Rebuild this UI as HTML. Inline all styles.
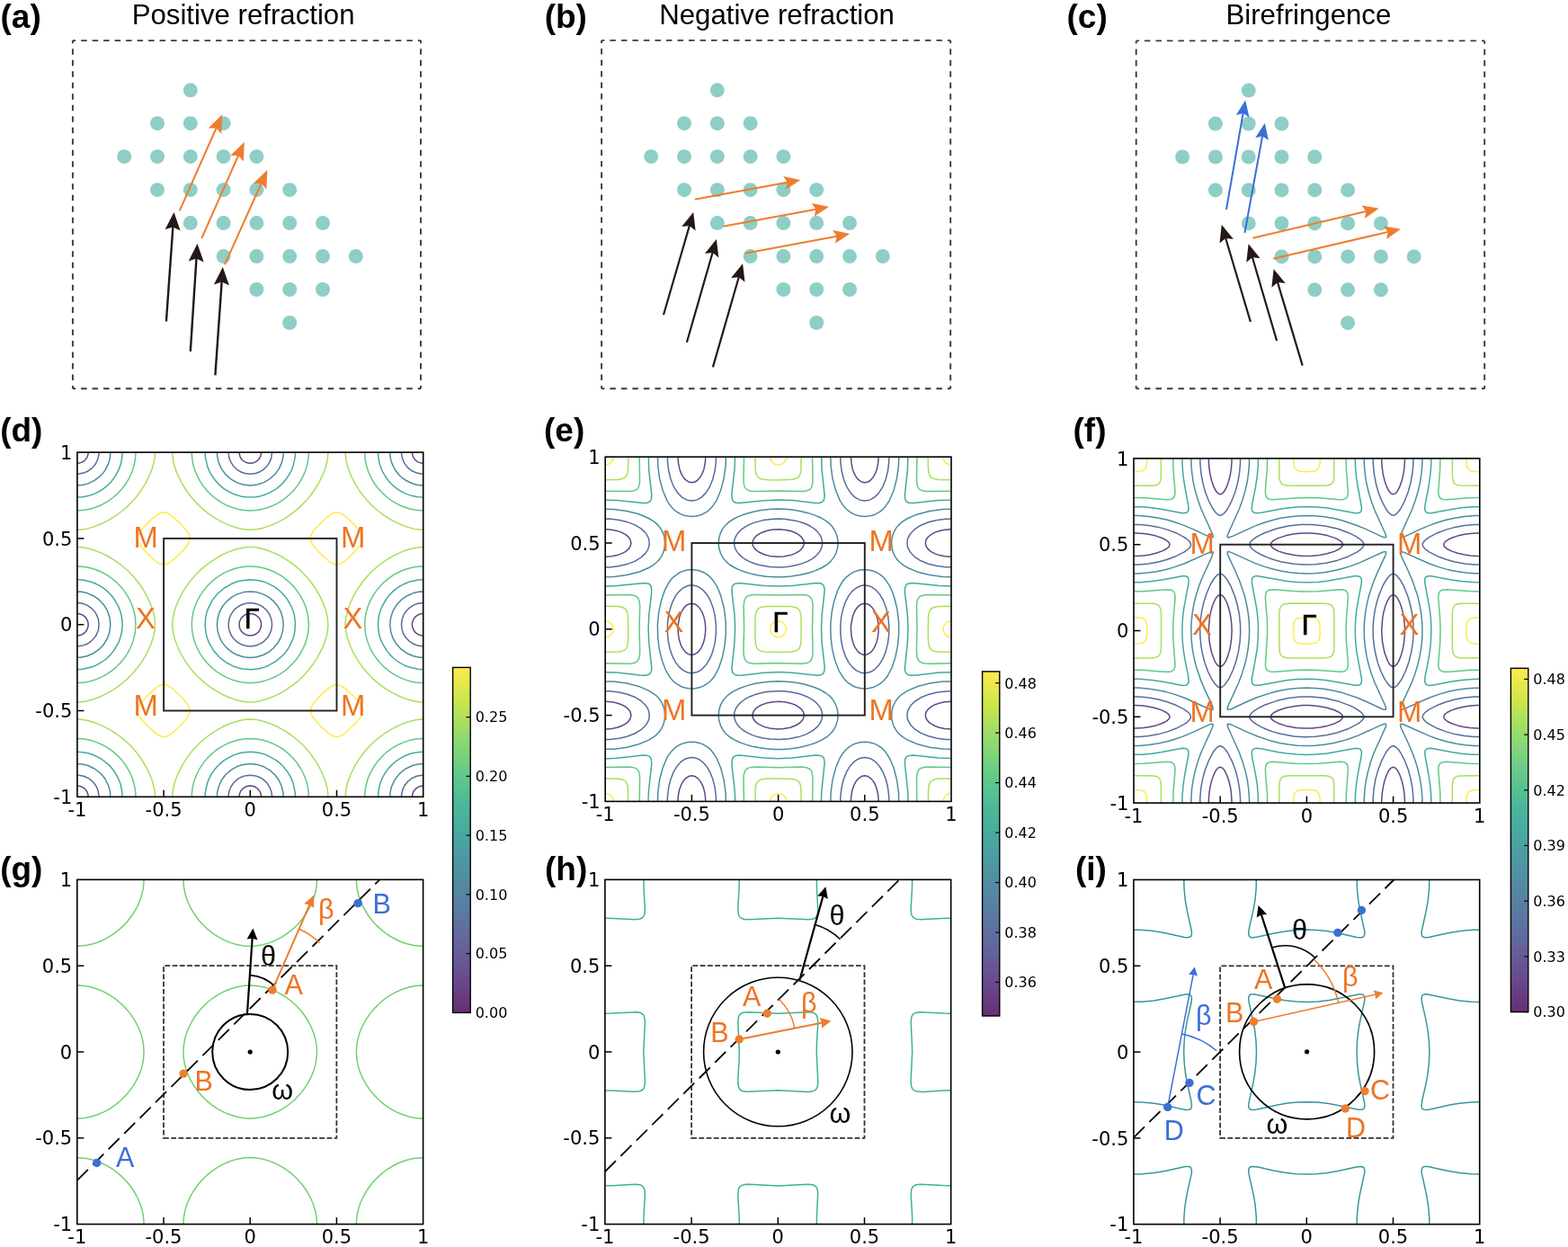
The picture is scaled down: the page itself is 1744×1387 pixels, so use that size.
<!DOCTYPE html><html><head><meta charset="utf-8"><style>html,body{margin:0;padding:0;background:#fff;}svg{display:block}</style></head><body><svg width="1744" height="1387" viewBox="0 0 1744 1387">
<rect width="1744" height="1387" fill="#fff"/>
<line x1="80.9" y1="45.1" x2="468" y2="45.1" stroke="#3e3a39" stroke-width="1.9" stroke-dasharray="6.5 5.99" stroke-dashoffset="3.25"/>
<line x1="468" y1="45.1" x2="468" y2="432.3" stroke="#3e3a39" stroke-width="1.9" stroke-dasharray="6.5 5.99" stroke-dashoffset="3.25"/>
<line x1="468" y1="432.3" x2="80.9" y2="432.3" stroke="#3e3a39" stroke-width="1.9" stroke-dasharray="6.5 5.99" stroke-dashoffset="3.25"/>
<line x1="80.9" y1="432.3" x2="80.9" y2="45.1" stroke="#3e3a39" stroke-width="1.9" stroke-dasharray="6.5 5.99" stroke-dashoffset="3.25"/>
<circle cx="211.8" cy="100.3" r="8" fill="#8fcec7"/>
<circle cx="175" cy="137.2" r="8" fill="#8fcec7"/>
<circle cx="211.8" cy="137.2" r="8" fill="#8fcec7"/>
<circle cx="248.6" cy="137.2" r="8" fill="#8fcec7"/>
<circle cx="138.2" cy="174.2" r="8" fill="#8fcec7"/>
<circle cx="175" cy="174.2" r="8" fill="#8fcec7"/>
<circle cx="211.8" cy="174.2" r="8" fill="#8fcec7"/>
<circle cx="248.6" cy="174.2" r="8" fill="#8fcec7"/>
<circle cx="285.4" cy="174.2" r="8" fill="#8fcec7"/>
<circle cx="175" cy="211.2" r="8" fill="#8fcec7"/>
<circle cx="211.8" cy="211.2" r="8" fill="#8fcec7"/>
<circle cx="248.6" cy="211.2" r="8" fill="#8fcec7"/>
<circle cx="285.4" cy="211.2" r="8" fill="#8fcec7"/>
<circle cx="322.2" cy="211.2" r="8" fill="#8fcec7"/>
<circle cx="211.8" cy="248.1" r="8" fill="#8fcec7"/>
<circle cx="248.6" cy="248.1" r="8" fill="#8fcec7"/>
<circle cx="285.4" cy="248.1" r="8" fill="#8fcec7"/>
<circle cx="322.2" cy="248.1" r="8" fill="#8fcec7"/>
<circle cx="359" cy="248.1" r="8" fill="#8fcec7"/>
<circle cx="248.6" cy="285.1" r="8" fill="#8fcec7"/>
<circle cx="285.4" cy="285.1" r="8" fill="#8fcec7"/>
<circle cx="322.2" cy="285.1" r="8" fill="#8fcec7"/>
<circle cx="359" cy="285.1" r="8" fill="#8fcec7"/>
<circle cx="395.8" cy="285.1" r="8" fill="#8fcec7"/>
<circle cx="285.4" cy="322" r="8" fill="#8fcec7"/>
<circle cx="322.2" cy="322" r="8" fill="#8fcec7"/>
<circle cx="359" cy="322" r="8" fill="#8fcec7"/>
<circle cx="322.2" cy="359" r="8" fill="#8fcec7"/>
<line x1="199.8" y1="234.4" x2="240.7" y2="142" stroke="#ee7d2e" stroke-width="2.0"/>
<polygon points="247.1,127.5 246.3,149 240.5,142.5 231.7,142.6" fill="#ee7d2e"/>
<line x1="224.3" y1="265" x2="265.3" y2="172.5" stroke="#ee7d2e" stroke-width="2.0"/>
<polygon points="271.7,158 270.9,179.5 265.1,173 256.3,173" fill="#ee7d2e"/>
<line x1="250" y1="294.3" x2="290.8" y2="203.5" stroke="#ee7d2e" stroke-width="2.0"/>
<polygon points="297.3,189 296.4,210.5 290.6,204 281.8,204" fill="#ee7d2e"/>
<line x1="184.9" y1="357.5" x2="192.4" y2="251.9" stroke="#231815" stroke-width="2.4"/>
<polygon points="193.5,236 200.6,256.6 192.3,252.4 183.6,255.3" fill="#231815"/>
<line x1="211.8" y1="390.8" x2="218.5" y2="286.9" stroke="#231815" stroke-width="2.4"/>
<polygon points="219.5,271 226.7,291.5 218.4,287.4 209.7,290.4" fill="#231815"/>
<line x1="239.4" y1="417.4" x2="246.7" y2="312.9" stroke="#231815" stroke-width="2.4"/>
<polygon points="247.8,297 254.9,317.5 246.7,313.4 237.9,316.4" fill="#231815"/>
<text x="146.7" y="26.8" font-family="'Liberation Sans', Arial, sans-serif" font-size="31.2">Positive refraction</text>
<text x="0.5" y="31.1" font-family="'Liberation Sans', Arial, sans-serif" font-weight="bold" font-size="37">(a)</text>
<line x1="669.1" y1="44.9" x2="1057.2" y2="44.9" stroke="#3e3a39" stroke-width="1.9" stroke-dasharray="6.5 6.02" stroke-dashoffset="3.25"/>
<line x1="1057.2" y1="44.9" x2="1057.2" y2="432.3" stroke="#3e3a39" stroke-width="1.9" stroke-dasharray="6.5 6.00" stroke-dashoffset="3.25"/>
<line x1="1057.2" y1="432.3" x2="669.1" y2="432.3" stroke="#3e3a39" stroke-width="1.9" stroke-dasharray="6.5 6.02" stroke-dashoffset="3.25"/>
<line x1="669.1" y1="432.3" x2="669.1" y2="44.9" stroke="#3e3a39" stroke-width="1.9" stroke-dasharray="6.5 6.00" stroke-dashoffset="3.25"/>
<circle cx="797.8" cy="100.3" r="8" fill="#8fcec7"/>
<circle cx="761" cy="137.2" r="8" fill="#8fcec7"/>
<circle cx="797.8" cy="137.2" r="8" fill="#8fcec7"/>
<circle cx="834.6" cy="137.2" r="8" fill="#8fcec7"/>
<circle cx="724.2" cy="174.2" r="8" fill="#8fcec7"/>
<circle cx="761" cy="174.2" r="8" fill="#8fcec7"/>
<circle cx="797.8" cy="174.2" r="8" fill="#8fcec7"/>
<circle cx="834.6" cy="174.2" r="8" fill="#8fcec7"/>
<circle cx="871.4" cy="174.2" r="8" fill="#8fcec7"/>
<circle cx="761" cy="211.2" r="8" fill="#8fcec7"/>
<circle cx="797.8" cy="211.2" r="8" fill="#8fcec7"/>
<circle cx="834.6" cy="211.2" r="8" fill="#8fcec7"/>
<circle cx="871.4" cy="211.2" r="8" fill="#8fcec7"/>
<circle cx="908.2" cy="211.2" r="8" fill="#8fcec7"/>
<circle cx="797.8" cy="248.1" r="8" fill="#8fcec7"/>
<circle cx="834.6" cy="248.1" r="8" fill="#8fcec7"/>
<circle cx="871.4" cy="248.1" r="8" fill="#8fcec7"/>
<circle cx="908.2" cy="248.1" r="8" fill="#8fcec7"/>
<circle cx="945" cy="248.1" r="8" fill="#8fcec7"/>
<circle cx="834.6" cy="285.1" r="8" fill="#8fcec7"/>
<circle cx="871.4" cy="285.1" r="8" fill="#8fcec7"/>
<circle cx="908.2" cy="285.1" r="8" fill="#8fcec7"/>
<circle cx="945" cy="285.1" r="8" fill="#8fcec7"/>
<circle cx="981.8" cy="285.1" r="8" fill="#8fcec7"/>
<circle cx="871.4" cy="322" r="8" fill="#8fcec7"/>
<circle cx="908.2" cy="322" r="8" fill="#8fcec7"/>
<circle cx="945" cy="322" r="8" fill="#8fcec7"/>
<circle cx="908.2" cy="359" r="8" fill="#8fcec7"/>
<line x1="772.9" y1="221.8" x2="876.3" y2="202.8" stroke="#ee7d2e" stroke-width="2.0"/>
<polygon points="890.3,200.2 874,210.8 875.8,202.9 871.2,196.1" fill="#ee7d2e"/>
<line x1="804.5" y1="251.7" x2="907.9" y2="232.7" stroke="#ee7d2e" stroke-width="2.0"/>
<polygon points="921.9,230.1 905.6,240.7 907.4,232.8 902.8,226" fill="#ee7d2e"/>
<line x1="828.8" y1="281.7" x2="931.2" y2="262.7" stroke="#ee7d2e" stroke-width="2.0"/>
<polygon points="945.2,260.1 928.9,270.8 930.7,262.8 926.1,256" fill="#ee7d2e"/>
<line x1="738" y1="350.2" x2="767" y2="250.6" stroke="#231815" stroke-width="2.2"/>
<polygon points="771.2,236.1 773.6,256.6 766.8,251.1 758.2,252.1" fill="#231815"/>
<line x1="763.9" y1="380.8" x2="792.7" y2="280.5" stroke="#231815" stroke-width="2.2"/>
<polygon points="796.9,266 799.3,286.5 792.6,281 784,282.1" fill="#231815"/>
<line x1="792.9" y1="408.4" x2="821.9" y2="307.8" stroke="#231815" stroke-width="2.2"/>
<polygon points="826.1,293.3 828.5,313.8 821.8,308.3 813.1,309.3" fill="#231815"/>
<text x="733.2" y="26.8" font-family="'Liberation Sans', Arial, sans-serif" font-size="31.2">Negative refraction</text>
<text x="605.7" y="31.1" font-family="'Liberation Sans', Arial, sans-serif" font-weight="bold" font-size="37">(b)</text>
<line x1="1263.7" y1="45.4" x2="1651.2" y2="45.4" stroke="#3e3a39" stroke-width="1.9" stroke-dasharray="6.5 6.00" stroke-dashoffset="3.25"/>
<line x1="1651.2" y1="45.4" x2="1651.2" y2="432.2" stroke="#3e3a39" stroke-width="1.9" stroke-dasharray="6.5 5.98" stroke-dashoffset="3.25"/>
<line x1="1651.2" y1="432.2" x2="1263.7" y2="432.2" stroke="#3e3a39" stroke-width="1.9" stroke-dasharray="6.5 6.00" stroke-dashoffset="3.25"/>
<line x1="1263.7" y1="432.2" x2="1263.7" y2="45.4" stroke="#3e3a39" stroke-width="1.9" stroke-dasharray="6.5 5.98" stroke-dashoffset="3.25"/>
<circle cx="1388.7" cy="100.6" r="8" fill="#8fcec7"/>
<circle cx="1351.9" cy="137.6" r="8" fill="#8fcec7"/>
<circle cx="1388.7" cy="137.6" r="8" fill="#8fcec7"/>
<circle cx="1425.5" cy="137.6" r="8" fill="#8fcec7"/>
<circle cx="1315.1" cy="174.5" r="8" fill="#8fcec7"/>
<circle cx="1351.9" cy="174.5" r="8" fill="#8fcec7"/>
<circle cx="1388.7" cy="174.5" r="8" fill="#8fcec7"/>
<circle cx="1425.5" cy="174.5" r="8" fill="#8fcec7"/>
<circle cx="1462.3" cy="174.5" r="8" fill="#8fcec7"/>
<circle cx="1351.9" cy="211.4" r="8" fill="#8fcec7"/>
<circle cx="1388.7" cy="211.4" r="8" fill="#8fcec7"/>
<circle cx="1425.5" cy="211.4" r="8" fill="#8fcec7"/>
<circle cx="1462.3" cy="211.4" r="8" fill="#8fcec7"/>
<circle cx="1499.1" cy="211.4" r="8" fill="#8fcec7"/>
<circle cx="1388.7" cy="248.4" r="8" fill="#8fcec7"/>
<circle cx="1425.5" cy="248.4" r="8" fill="#8fcec7"/>
<circle cx="1462.3" cy="248.4" r="8" fill="#8fcec7"/>
<circle cx="1499.1" cy="248.4" r="8" fill="#8fcec7"/>
<circle cx="1535.9" cy="248.4" r="8" fill="#8fcec7"/>
<circle cx="1425.5" cy="285.4" r="8" fill="#8fcec7"/>
<circle cx="1462.3" cy="285.4" r="8" fill="#8fcec7"/>
<circle cx="1499.1" cy="285.4" r="8" fill="#8fcec7"/>
<circle cx="1535.9" cy="285.4" r="8" fill="#8fcec7"/>
<circle cx="1572.7" cy="285.4" r="8" fill="#8fcec7"/>
<circle cx="1462.3" cy="322.3" r="8" fill="#8fcec7"/>
<circle cx="1499.1" cy="322.3" r="8" fill="#8fcec7"/>
<circle cx="1535.9" cy="322.3" r="8" fill="#8fcec7"/>
<circle cx="1499.1" cy="359.2" r="8" fill="#8fcec7"/>
<line x1="1364" y1="233" x2="1382.7" y2="125.5" stroke="#3b6fd6" stroke-width="2.0"/>
<polygon points="1385.2,111.5 1389.5,130.5 1382.7,126 1374.7,127.9" fill="#3b6fd6"/>
<line x1="1384.4" y1="259" x2="1404.2" y2="151" stroke="#3b6fd6" stroke-width="2.0"/>
<polygon points="1406.8,137 1410.9,156.1 1404.1,151.5 1396.2,153.3" fill="#3b6fd6"/>
<line x1="1393.5" y1="264.8" x2="1519.8" y2="235" stroke="#ee7d2e" stroke-width="2.0"/>
<polygon points="1533.7,231.7 1517.9,243.1 1519.3,235.1 1514.5,228.5" fill="#ee7d2e"/>
<line x1="1416.2" y1="287.8" x2="1544.1" y2="257.9" stroke="#ee7d2e" stroke-width="2.0"/>
<polygon points="1558,254.7 1542.2,266.1 1543.6,258.1 1538.8,251.5" fill="#ee7d2e"/>
<line x1="1390.9" y1="358" x2="1363.1" y2="264.5" stroke="#231815" stroke-width="2.2"/>
<polygon points="1358.8,250 1371.9,265.9 1363.2,264.9 1356.5,270.5" fill="#231815"/>
<line x1="1420.1" y1="379" x2="1392.8" y2="285.8" stroke="#231815" stroke-width="2.2"/>
<polygon points="1388.6,271.3 1401.6,287.3 1393,286.3 1386.3,291.8" fill="#231815"/>
<line x1="1448.7" y1="406.6" x2="1420.9" y2="313.6" stroke="#231815" stroke-width="2.2"/>
<polygon points="1416.6,299.2 1429.7,315.1 1421.1,314.1 1414.4,319.7" fill="#231815"/>
<text x="1363.5" y="26.8" font-family="'Liberation Sans', Arial, sans-serif" font-size="31.2">Birefringence</text>
<text x="1186.5" y="31.1" font-family="'Liberation Sans', Arial, sans-serif" font-weight="bold" font-size="37">(c)</text>
<clipPath id="cd"><rect x="85.9" y="503.1" width="384.8" height="383.2"/></clipPath>
<g clip-path="url(#cd)" fill="none" stroke-width="1.5" stroke-linejoin="round" stroke-linecap="round">
<path stroke="#644589" d="M267 891.1 266.2 888.7 266.1 885.1 267 881.5 268.3 879.1 269.9 877.4 272.5 875.5 275.7 874.3 278.3 874 280.9 874.3 284.2 875.5 286.7 877.4 288.3 879.1 289.6 881.5 290.5 885.1 290.4 888.7 289.6 891.1M459.4 891.1 458.5 887.5 458.6 883.9 459.9 880.5 461.7 877.9 464.7 875.6 468.3 874.3 471.9 874.1 475.5 875M81.1 875 84.7 874.1 88.3 874.3 91.9 875.6 94.9 877.9 96.7 880.5 98 883.9 98.1 887.5 97.2 891.1M475.5 706 473.1 706.7 469.5 706.9 465.9 706 463.5 704.6 461.7 703.1 459.9 700.5 458.7 697.3 458.4 694.7 458.7 692.1 459.9 688.9 461.7 686.3 463.5 684.8 465.9 683.4 469.5 682.5 473.1 682.7 475.5 683.4M81.1 683.4 83.5 682.7 87.1 682.5 90.7 683.4 93.1 684.8 94.9 686.3 96.7 688.9 97.9 692.1 98.2 694.7 97.9 697.3 96.7 700.5 94.9 703.1 93.1 704.6 90.7 706 87.1 706.9 83.5 706.7 81.1 706M475.5 514.4 471.9 515.3 468.3 515.1 464.9 513.9 462.3 512 460 509.1 458.6 505.5 458.5 501.9 459.4 498.3M97.2 498.3 98.1 501.9 98 505.5 96.6 509.1 94.3 512 91.7 513.9 88.3 515.1 84.7 515.3 81.1 514.4M289.6 498.3 290.4 500.7 290.5 504.3 289.6 507.9 288.3 510.3 286.7 512 284.1 513.9 280.9 515.1 278.3 515.3 275.7 515.1 272.5 513.9 269.9 512 268.3 510.3 267 507.9 266.1 504.3 266.2 500.7 267 498.3M275.9 706.7 272.3 705.4 269.9 703.6 268.3 701.9 267 699.5 266.2 697.1 266.2 692.3 267.6 688.7 269.3 686.3 271.1 684.8 273.5 683.4 275.9 682.7 280.7 682.7 284.3 684 286.7 685.8 288.3 687.5 289.6 689.9 290.4 692.3 290.4 697.1 289 700.7 287.3 703.1 285.5 704.6 283.1 706 280.7 706.7 275.9 706.7"/>
<path stroke="#586c9d" d="M254.6 891.1 254.1 885.1 254.8 880.3 256.7 875.5 259.8 870.7 263.6 867.1 267.5 864.7 272.3 862.9 278.3 862.2 284.3 862.9 289.1 864.7 293 867.1 296.8 870.7 299.9 875.5 301.8 880.3 302.5 885.1 302 891.1M447 891.1 446.5 885.1 447.6 879.1 449.7 874.3 453.3 869.5 457.7 865.9 463.5 863.3 469.5 862.2 475.5 862.6M81.1 862.6 87.1 862.2 93.1 863.3 98.9 865.9 103.3 869.5 106.9 874.3 109 879.1 110.1 885.1 109.6 891.1M475.5 718.4 470.7 718.8 464.7 718.1 459.8 716.3 455.1 713.1 451.5 709.3 449 705.5 447.2 700.7 446.5 694.7 447.2 688.7 449 683.9 451.5 680.1 455.1 676.3 459.8 673.1 464.7 671.3 470.7 670.6 475.5 671M81.1 671 87.1 670.6 91.9 671.3 96.8 673.1 101.5 676.3 105.1 680.1 107.6 683.9 109.4 688.7 110.1 694.7 109.4 700.7 107.6 705.5 105.1 709.3 101.5 713.1 96.8 716.3 91.9 718.1 87.1 718.8 81.1 718.3M475.5 526.8 469.5 527.2 463.5 526.1 457.7 523.5 453.3 519.9 449.7 515.1 447.6 510.3 446.5 504.3 446.9 498.3M109.7 498.3 110.1 504.3 109 510.3 106.3 516 102.7 520.4 97.9 524 93.1 526.1 87.1 527.2 81.1 526.7M302.1 498.3 302.5 503.1 301.8 509.1 299.9 513.9 296.8 518.7 293 522.3 289.1 524.7 284.3 526.5 278.3 527.2 272.3 526.5 267.5 524.7 263.6 522.3 259.8 518.7 256.7 513.9 254.8 509.1 254.1 503.1 254.5 498.3M275.9 718.7 271.1 717.7 267.4 716.3 263.6 713.9 259.8 710.3 257.3 706.7 255.2 701.9 254.2 697.1 254.2 692.3 255.2 687.5 256.7 683.9 259.1 680.1 262.7 676.3 266.3 673.8 271.1 671.7 275.9 670.7 280.7 670.7 285.5 671.7 289.2 673.1 293 675.5 296.8 679.1 299.3 682.7 301.4 687.5 302.4 692.3 302.4 697.1 301.4 701.9 299.9 705.5 297.5 709.3 293.9 713.1 290.3 715.6 285.5 717.7 280.7 718.7 275.9 718.7"/>
<path stroke="#4a8c9f" d="M241.7 891.1 241.5 882.7 243 875.5 246.1 868.3 250.6 862 256.7 856.6 263.2 852.8 270.4 850.4 278.3 849.5 286.2 850.4 293.4 852.8 299.9 856.6 306 862 310.5 868.3 313.6 875.5 315.1 882.7 314.9 891.1M434.1 891.1 433.9 882.7 434.6 878.5 435.8 874.3 439.2 867.1 444.2 860.7 447.8 857.6 451.2 855.2 458.7 851.5 462.8 850.4 467.1 849.7 475.5 849.8M81.1 849.8 89.5 849.7 93.8 850.4 97.9 851.5 105.1 855 111.6 860 114.8 863.5 117.2 866.8 120.8 874.3 122 878.5 122.7 882.7 122.5 891.1M475.5 731.2 467.1 731.3 459.9 729.8 452.7 726.7 446.3 722.2 440.9 716.3 437 709.7 434.6 702.5 433.8 694.7 434.6 686.9 437 679.7 440.9 673.1 446.3 667.2 452.7 662.7 459.9 659.6 467.1 658.1 475.5 658.2M81.1 658.2 89.5 658.1 96.7 659.6 103.9 662.7 110.3 667.2 115.7 673.1 119.6 679.7 122 686.9 122.8 694.7 122 702.5 119.6 709.7 115.7 716.3 110.3 722.2 103.9 726.7 96.7 729.8 89.5 731.3 81.1 731.2M475.5 539.6 467.1 539.7 462.8 539 458.7 537.8 451.2 534.2 447.8 531.8 444.2 528.7 439.2 522.3 435.8 515.1 434.6 510.9 433.9 506.7 434.1 498.3M122.5 498.3 122.7 506.7 122 510.9 120.8 515.1 117.2 522.6 114.8 525.9 111.6 529.4 105.1 534.4 97.9 537.9 93.8 539 89.5 539.7 81.1 539.6M314.9 498.3 315.1 506.7 313.6 513.9 310.5 521.1 306 527.4 299.9 532.8 293.4 536.6 286.2 539 278.3 539.9 270.4 539 263.2 536.6 256.7 532.8 250.6 527.4 246.1 521.1 243 513.9 241.5 506.7 241.7 498.3M271.1 730.8 263.9 728.5 257.9 725.3 251.8 720.3 247.6 715.1 244.3 709.1 242.1 701.9 241.4 694.7 242.1 687.5 244.3 680.3 247.6 674.3 251.8 669.1 257.9 664.1 263.9 660.9 271.1 658.6 278.3 657.9 285.5 658.6 292.7 660.9 298.7 664.1 304 668.4 309 674.3 312.3 680.3 314.5 687.5 315.2 694.7 314.5 701.9 312.3 709.1 309 715.1 304 721 298.7 725.3 292.7 728.5 285.5 730.8 278.3 731.5 271.1 730.8"/>
<path stroke="#40ab9b" d="M228.3 891.1 228.1 886.3 228.5 880.3 230.7 870.7 232.6 865.9 235.1 861.2 238.4 856.4 241.4 852.8 245 849.2 249.4 845.6 257.9 840.8 262.7 838.9 267.5 837.5 272.3 836.7 278.3 836.3 284.3 836.7 289.1 837.5 293.9 838.9 298.7 840.8 307.2 845.6 311.6 849.2 315.2 852.8 318.2 856.4 321.5 861.2 324 865.9 325.9 870.7 328.1 880.3 328.5 886.3 328.3 891.1M420.7 891.1 420.5 886.3 420.9 880.3 422 874.3 423.5 869.5 425.6 864.7 428.2 860 431 856 434.9 851.6 438.8 848 443.7 844.4 449.1 841.3 453.9 839.3 458.7 837.8 464.7 836.7 470.7 836.3 475.5 836.5M81.1 836.5 85.9 836.3 91.9 836.7 97.9 837.8 102.7 839.3 107.5 841.3 112.4 844 116.3 846.8 120.8 850.6 124.4 854.5 128 859.4 131 864.7 133.1 869.5 134.6 874.3 135.7 880.3 136.1 886.3 135.9 891.1M475.5 744.5 470.7 744.7 464.7 744.3 455.1 742.1 450.3 740.2 445.4 737.7 440.6 734.5 437 731.5 433.4 727.9 429.9 723.4 425 715.1 423.1 710.3 421.7 705.5 420.9 700.7 420.5 694.7 420.9 688.7 421.7 683.9 423.1 679.1 425 674.3 429.9 666 433.4 661.5 437 657.9 440.6 654.9 445.4 651.7 450.3 649.2 455.1 647.3 464.7 645.1 470.7 644.7 475.5 644.9M81.1 644.9 85.9 644.7 91.9 645.1 101.5 647.3 106.3 649.2 111.2 651.7 116 654.9 119.6 657.9 123.2 661.5 126.7 666 131.6 674.3 133.5 679.1 134.9 683.9 135.7 688.7 136.1 694.7 135.7 700.7 134.9 705.5 133.5 710.3 131.6 715.1 126.7 723.4 123.2 727.9 119.6 731.5 116 734.5 111.2 737.7 106.3 740.2 101.5 742.1 91.9 744.3 85.9 744.7 81.1 744.5M475.5 552.9 470.7 553.1 464.7 552.7 458.7 551.6 453.9 550.1 449.1 548.1 444.2 545.4 440.3 542.6 435.8 538.7 432.2 534.9 428.6 530 425.6 524.7 423.5 519.9 422 515.1 420.9 509.1 420.5 503.1 420.7 498.3M135.9 498.3 136.1 503.1 135.7 509.1 134.6 515.1 133.1 519.9 131 524.7 128 530 124.4 534.9 120.8 538.7 116.3 542.6 112.4 545.4 107.5 548.1 102.7 550.1 97.9 551.6 91.9 552.7 85.9 553.1 81.1 552.9M328.3 498.3 328.5 503.1 328.1 509.1 325.9 518.7 324 523.5 321.5 528.2 318.2 533 315.2 536.6 311.6 540.2 307.2 543.8 298.7 548.6 293.9 550.5 289.1 551.9 284.3 552.7 278.3 553.1 272.3 552.7 267.5 551.9 262.7 550.5 257.9 548.6 249.4 543.8 245 540.2 241.4 536.6 238.4 533 235.1 528.2 232.6 523.5 230.7 518.7 228.5 509.1 228.1 503.1 228.3 498.3M269.9 744 265.1 742.9 260.3 741.3 251.8 737 247.9 734.2 243.7 730.6 237.4 723.4 232.6 715.1 230.7 710.3 229.3 705.5 228.1 695.9 228.8 686.3 229.9 681.5 231.6 676.7 235.8 668.4 238.6 664.4 242.2 660.3 249.5 654 257.9 649.2 262.7 647.3 267.5 645.9 277.1 644.7 286.7 645.4 291.5 646.5 296.3 648.1 304.8 652.4 308.7 655.2 312.9 658.8 319.2 666 324 674.3 325.9 679.1 327.3 683.9 328.5 693.5 327.8 703.1 326.7 707.9 325 712.7 320.8 721 318 725 314.4 729.1 307.1 735.4 298.7 740.2 293.9 742.1 289.1 743.5 279.5 744.7 269.9 744"/>
<path stroke="#60c986" d="M213.5 891.1 213.3 883.9 213.9 877.9 215 871.9 216.9 865.9 219.4 860 222.6 854 226.6 848.1 230.7 843.2 235.6 838.4 241 834 247 830.1 253 827.1 259.1 824.7 265.1 823 271.1 822 278.3 821.5 285.5 822 291.5 823 297.5 824.7 303.6 827.1 309.6 830.1 315.6 834 321 838.4 325.9 843.2 330 848.1 334 854 337.2 860 339.7 865.9 341.6 871.9 342.7 877.9 343.3 883.9 343.1 891.1M405.9 891.1 405.7 883.9 406.3 877.9 407.8 870.7 409.7 864.7 412.4 858.8 415.8 852.8 420.1 846.8 425 841.2 429.8 836.8 435.8 832.4 441.8 828.8 449.1 825.6 455.1 823.6 462.3 822.1 468.3 821.6 475.5 821.7M81.1 821.7 88.3 821.6 94.3 822.1 101.5 823.6 107.5 825.6 113.6 828.2 119.6 831.6 125.6 835.9 131.1 840.8 135.6 845.6 140.1 851.6 143.6 857.6 146.9 864.7 148.8 870.7 150.3 877.9 150.9 883.9 150.7 891.1M475.5 759.3 468.3 759.4 462.3 758.9 456.3 757.7 450.3 755.9 444.2 753.4 438.2 750.2 432.4 746.2 427.4 742.1 422.6 737.2 418.2 731.8 414.3 725.8 411.2 719.8 408.9 713.9 407.2 707.9 406.1 701.9 405.7 694.7 406.1 687.5 407.2 681.5 408.9 675.5 411.2 669.6 414.3 663.6 418.2 657.6 422.6 652.2 427.4 647.3 432.4 643.2 438.2 639.2 444.2 636 450.3 633.5 456.3 631.7 462.3 630.5 468.3 630 475.5 630.1M81.1 630.1 88.3 630 94.3 630.5 100.3 631.7 106.3 633.5 112.4 636 118.4 639.2 124.2 643.2 129.2 647.3 134 652.2 138.4 657.6 142.3 663.6 145.4 669.6 147.7 675.5 149.4 681.5 150.5 687.5 150.9 694.7 150.5 701.9 149.4 707.9 147.7 713.9 145.4 719.8 142.3 725.8 138.4 731.8 134 737.2 129.2 742.1 124.2 746.2 118.4 750.2 112.4 753.4 106.3 755.9 100.3 757.7 94.3 758.9 88.3 759.4 81.1 759.3M475.5 567.7 468.3 567.8 462.3 567.3 455.1 565.8 449.1 563.8 443 561.2 437 557.8 431 553.5 425.5 548.6 421 543.8 416.5 537.8 413 531.8 409.7 524.7 407.8 518.7 406.3 511.5 405.7 505.5 405.9 498.3M150.7 498.3 150.9 505.5 150.3 511.5 148.8 518.7 146.9 524.7 143.6 531.8 140.1 537.8 135.6 543.8 131.1 548.6 125.6 553.5 119.6 557.8 113.6 561.2 107.5 563.8 101.5 565.8 94.3 567.3 88.3 567.8 81.1 567.7M343.1 498.3 343.3 505.5 342.7 511.5 341.6 517.5 339.7 523.5 337.2 529.4 334 535.4 330 541.3 325.9 546.2 321 551 315.6 555.4 309.6 559.3 303.6 562.3 297.5 564.7 291.5 566.4 285.5 567.4 278.3 567.9 271.1 567.4 265.1 566.4 259.1 564.7 253 562.3 247 559.3 241 555.4 235.6 551 230.7 546.2 226.6 541.3 222.6 535.4 219.4 529.4 216.9 523.5 215 517.5 213.9 511.5 213.3 505.5 213.5 498.3M275.9 759.4 269.9 758.9 263.9 757.7 257.9 755.9 251.8 753.4 245.8 750.2 241 747 235.6 742.6 230.7 737.8 226.7 733 223 727.6 220 722.2 217.3 716.3 215.4 710.3 214.1 704.3 213.4 698.3 213.3 692.3 213.9 686.3 215 680.3 216.9 674.3 219.4 668.4 222.6 662.4 225.8 657.6 230.2 652.2 235 647.3 239.8 643.3 245.2 639.6 250.6 636.6 256.7 634 262.7 632 268.7 630.7 274.7 630 280.7 630 286.7 630.5 292.7 631.7 298.7 633.5 304.8 636 310.8 639.2 315.6 642.4 321 646.8 325.9 651.6 329.9 656.4 333.6 661.8 336.6 667.2 339.3 673.1 341.2 679.1 342.5 685.1 343.2 691.1 343.3 697.1 342.7 703.1 341.6 709.1 339.7 715.1 337.2 721 334 727 330.8 731.8 326.4 737.2 321.6 742.1 316.8 746.1 311.4 749.8 306 752.8 299.9 755.4 293.9 757.4 287.9 758.7 281.9 759.4 275.9 759.4"/>
<path stroke="#aadf5a" d="M192 891.1 191.8 883.9 192.7 876.7 194.5 869.5 197.7 861.2 201.8 852.8 206.9 844.4 212.1 837.2 218.2 830.3 224.7 824 231.4 818.6 238.6 813.6 247 808.8 255.5 805 263.9 802.2 271.1 800.6 278.3 800.1 285.5 800.6 292.7 802.2 301.1 805 309.6 808.8 318 813.6 325.2 818.6 331.9 824 338.4 830.3 344.5 837.2 349.7 844.4 354.8 852.8 358.9 861.2 362.1 869.5 363.9 876.7 364.8 883.9 364.6 891.1M384.4 891.1 384.2 883.9 385.1 876.7 387.3 868.3 390.6 860 394.9 851.6 400.1 843.2 405.5 836 412 828.8 419 822.4 427.4 816 435.8 810.8 444.2 806.6 452.7 803.3 461.1 801 468.3 800.1 475.5 800.3M81.1 800.3 88.3 800.1 95.5 801 103.9 803.3 112.4 806.6 120.8 810.8 129.2 816 136.4 821.4 143.6 827.8 150.1 834.8 156.5 843.2 161.7 851.6 166 860 169.3 868.3 171.5 876.7 172.4 883.9 172.2 891.1M475.5 780.7 468.3 780.9 461.1 780 453.9 778.1 445.4 775 437 770.9 428.6 765.8 421.4 760.6 414.4 754.6 408.2 748.1 402.7 741.4 397.7 734.2 392.9 725.8 389.1 717.5 386.2 709.1 384.7 701.9 384.1 694.7 384.7 687.5 386.2 680.3 389.1 671.9 392.9 663.6 397.7 655.2 402.7 648 408.2 641.3 414.4 634.8 421.4 628.8 428.6 623.6 437 618.5 445.4 614.4 453.9 611.3 461.1 609.4 468.3 608.5 475.5 608.7M81.1 608.7 88.3 608.5 95.5 609.4 102.7 611.3 111.2 614.4 119.6 618.5 128 623.6 135.2 628.8 142.2 634.8 148.4 641.3 153.9 648 158.9 655.2 163.7 663.6 167.5 671.9 170.4 680.3 171.9 687.5 172.5 694.7 171.9 701.9 170.4 709.1 167.5 717.5 163.7 725.8 158.9 734.2 153.9 741.4 148.4 748.1 142.2 754.6 135.2 760.6 128 765.8 119.6 770.9 111.2 775 102.7 778.1 95.5 780 88.3 780.9 81.1 780.7M475.5 589.1 468.3 589.3 461.1 588.4 452.7 586.1 444.2 582.8 435.8 578.6 427.4 573.4 420.2 568 413 561.6 406.5 554.6 400.1 546.2 394.9 537.8 390.6 529.4 387.3 521.1 385.1 512.7 384.2 505.5 384.4 498.3M172.2 498.3 172.4 505.5 171.5 512.7 169.3 521.1 166 529.4 161.7 537.8 156.5 546.2 150.1 554.6 143.6 561.6 136.4 568 129.2 573.4 120.8 578.6 112.4 582.8 103.9 586.1 95.5 588.4 88.3 589.3 81.1 589.1M364.6 498.3 364.8 505.5 363.9 512.7 362.1 519.9 358.9 528.2 354.8 536.6 349.7 545 344.5 552.2 338.4 559.1 331.9 565.4 325.2 570.8 318 575.8 309.6 580.6 301.1 584.4 292.7 587.2 285.5 588.8 278.3 589.3 271.1 588.8 263.9 587.2 255.5 584.4 247 580.6 238.6 575.8 231.4 570.8 224.7 565.4 218.2 559.1 212.1 552.2 206.9 545 201.8 536.6 197.7 528.2 194.5 519.9 192.7 512.7 191.8 505.5 192 498.3M268.7 780 261.5 778.1 254.2 775.5 247 772.2 239.8 768.1 232.6 763.3 226.6 758.6 220.6 753.2 214.6 746.7 209.4 740.2 204.6 733 200.5 725.8 197.2 718.6 194.5 711.5 192.7 704.3 191.8 697.1 191.9 691.1 192.9 683.9 194.9 676.7 198.2 668.4 201.8 661.2 206.1 654 211.2 646.8 217 640 223.3 633.6 230.2 627.9 237.4 622.8 244.6 618.5 253 614.4 261.5 611.3 268.7 609.4 275.9 608.5 281.9 608.6 289.1 609.7 296.3 611.7 304.8 615 312 618.5 319.2 622.8 326.4 627.9 333.3 633.6 339.6 640 345.4 646.8 350.5 654 354.8 661.2 358.9 669.6 362.1 677.9 363.9 685.1 364.8 692.3 364.7 698.3 363.7 705.5 361.3 713.9 357.8 722.2 353.5 730.6 348.9 737.8 343.2 745.3 337.2 752 330.6 758.2 322.8 764.2 314.4 769.6 306 773.9 297.5 777.3 290.3 779.4 283.1 780.7 275.9 780.9 268.7 780"/>
<path stroke="#feeb45" d="M179.7 819.3 183.3 819.5 186.9 818.4 190.5 816.1 195.3 812 202.5 804.9 207.8 798.9 210.6 794.1 211.3 790.5 210.6 786.9 208.6 783.3 204.8 778.5 199 772.5 192.9 766.9 189.3 764.1 185.7 762.1 182.1 761.4 178.5 762.1 174.9 764.1 170.1 767.9 164.1 773.7 158.4 779.7 155.6 783.3 153.6 786.9 152.9 790.5 153.2 792.9 154.8 796.5 160.5 803.7 166.5 809.7 172.5 815.1 176.1 817.7 179.7 819.3M372.1 819.3 375.7 819.5 379.3 818.4 382.9 816.1 387.7 812 394.9 804.9 400.2 798.9 403 794.1 403.7 790.5 403 786.9 401 783.3 397.2 778.5 391.4 772.5 385.3 766.9 381.7 764.1 378.1 762.1 374.5 761.4 370.9 762.1 367.3 764.1 362.5 767.9 356.5 773.7 350.8 779.7 348 783.3 346 786.9 345.3 790.5 345.6 792.9 347.2 796.5 352.9 803.7 358.9 809.7 364.9 815.1 368.5 817.7 372.1 819.3M179.7 627.7 183.3 627.9 186.9 626.8 190.5 624.5 195.3 620.4 202.5 613.3 207.8 607.3 210.6 602.5 211.3 598.9 210.6 595.3 208.6 591.7 204.8 586.9 199 580.9 192.9 575.3 189.3 572.5 185.7 570.5 182.1 569.8 178.5 570.5 174.9 572.5 170.1 576.3 164.1 582.1 158.4 588.1 155.6 591.7 153.6 595.3 152.9 598.9 153.2 601.3 154.8 604.9 160.5 612.1 166.5 618.1 172.5 623.5 176.1 626.1 179.7 627.7M372.1 627.7 375.7 627.9 379.3 626.8 382.9 624.5 387.7 620.4 394.9 613.3 400.2 607.3 403 602.5 403.7 598.9 403 595.3 401 591.7 397.2 586.9 391.4 580.9 385.3 575.3 381.7 572.5 378.1 570.5 374.5 569.8 370.9 570.5 367.3 572.5 362.5 576.3 356.5 582.1 350.8 588.1 348 591.7 346 595.3 345.3 598.9 345.6 601.3 347.2 604.9 352.9 612.1 358.9 618.1 364.9 623.5 368.5 626.1 372.1 627.7"/>
</g>
<clipPath id="ce"><rect x="673.2" y="508.2" width="384.8" height="383.2"/></clipPath>
<g clip-path="url(#ce)" fill="none" stroke-width="1.5" stroke-linejoin="round" stroke-linecap="round">
<path stroke="#644589" d="M754.3 896.2 754 890.2 754.5 884.2 755.7 878.2 757.4 873.4 759.8 869 762.2 866.1 765.8 863.6 769.4 862.8 773 863.6 776.6 866.1 779 869.1 781.4 873.4 783 878.2 784.3 884.2 784.7 890.2 784.5 896.2M946.7 896.2 946.4 890.2 946.9 884.2 948.1 878.2 949.8 873.4 952.2 869 954.6 866.1 958.2 863.6 961.8 862.8 965.4 863.6 969 866.1 971.4 869.1 973.8 873.4 975.4 878.2 976.7 884.2 977.1 890.2 976.9 896.2M1062.8 810.7 1058 810.9 1050.8 810.4 1044.8 809.2 1040 807.5 1035.6 805.2 1032.6 802.8 1030.1 799.2 1029.3 795.6 1030.1 792 1031.6 789.6 1035.2 786.4 1040 783.7 1044.8 782.1 1050.8 780.8 1058 780.3 1062.8 780.5M668.4 780.6 674.4 780.3 680.4 780.8 686.4 782 691.2 783.7 695.6 786 698.6 788.4 701.1 792 701.9 795.6 701.1 799.2 698.6 802.8 695.7 805.2 691.2 807.5 686.4 809.2 680.4 810.4 674.4 810.9 668.4 810.7M1062.8 619.1 1058 619.3 1050.8 618.8 1044.8 617.6 1040 615.9 1035.6 613.6 1032.6 611.2 1030.1 607.6 1029.3 604 1030.1 600.4 1031.6 598 1035.2 594.8 1040 592.1 1044.8 590.5 1050.8 589.2 1058 588.7 1062.8 588.9M668.4 589 674.4 588.7 680.4 589.2 686.4 590.4 691.2 592.1 695.6 594.4 698.6 596.8 701.1 600.4 701.9 604 701.1 607.6 698.6 611.2 695.7 613.6 691.2 615.9 686.4 617.6 680.4 618.8 674.4 619.3 668.4 619.1M784.5 503.4 784.8 508.2 784.2 515.4 783 521.4 781.3 526.2 778.7 531 775.4 534.5 773 536 769.4 536.8 765.8 536 762.2 533.4 759.8 530.5 757.4 526.2 755.8 521.4 754.6 515.4 754 508.2 754.2 503.4M976.9 503.4 977.2 508.2 976.6 515.4 975.4 521.4 973.7 526.2 971.1 531 967.8 534.5 965.4 536 961.8 536.8 958.2 536 954.6 533.4 952.2 530.5 949.8 526.2 948.2 521.4 947 515.4 946.4 508.2 946.6 503.4M856 810 850 808.4 844 805.6 840.2 802.8 837.7 799.2 837 796.8 837 794.4 838.4 790.8 841.6 787.2 846.4 784.3 852.4 782.1 859.6 780.7 866.8 780.3 874 781 880.2 782.4 886 784.8 891 788.4 893.5 792 894.3 794.4 894.3 796.8 892.9 800.4 889.7 804 884.8 807 878.8 809.2 871.6 810.6 865.6 810.9 856 810M765.8 727.6 763.4 726.1 761 723.7 758.6 720.2 757 716.6 755.5 711.8 754.6 707 754 699.8 754.1 696.2 755.7 686.6 757.4 681.9 759.3 678.2 761 675.8 763.4 673.4 765.8 672 769.4 671.2 773 672 775.4 673.4 777.8 675.9 780.8 680.6 782.7 685.4 784.1 691.4 784.7 697.4 784.6 703.4 783.8 709.4 782.6 714.3 780.2 720.1 777.8 723.7 775.3 726.1 771.8 728 768.2 728.3 765.8 727.6M958.2 727.6 955.8 726.1 953.4 723.7 951 720.2 949.4 716.6 947.9 711.8 947 707 946.4 699.8 946.5 696.2 948.1 686.6 949.8 681.9 951.7 678.2 953.4 675.8 955.8 673.4 958.2 672 961.8 671.2 965.4 672 967.8 673.4 970.2 675.9 973.2 680.6 975.1 685.4 976.5 691.4 977.1 697.4 977 703.4 976.2 709.4 975 714.3 972.6 720.1 970.2 723.7 967.7 726.1 964.2 728 960.6 728.3 958.2 727.6M856 618.4 850 616.8 844 614 840.2 611.2 837.7 607.6 837 605.2 837 602.8 838.4 599.2 841.6 595.6 846.4 592.7 852.4 590.5 859.6 589.1 866.8 588.7 874 589.4 880.2 590.8 886 593.2 891 596.8 893.5 600.4 894.3 602.8 894.3 605.2 892.9 608.8 889.7 612.4 884.8 615.4 878.8 617.6 871.6 619 865.6 619.3 856 618.4"/>
<path stroke="#586c9d" d="M742.4 896.2 742.4 886.6 743.7 875.8 745.7 867.5 749 858.9 753.2 851.9 757.7 847.1 761 844.8 763.4 843.7 765.8 843 769.4 842.6 773 843 775.4 843.7 777.8 844.9 781 847.1 785.6 851.9 789.8 859 793.1 867.5 795.1 875.8 796.4 886.6 796.3 896.2M934.8 896.2 934.8 886.6 936.1 875.8 938.1 867.5 941.4 858.9 945.6 851.9 950.1 847.1 953.4 844.8 955.8 843.7 958.2 843 961.8 842.6 965.4 843 967.8 843.7 970.2 844.9 973.4 847.1 978 851.9 982.2 859 985.5 867.5 987.5 875.8 988.8 886.6 988.7 896.2M1062.8 822.5 1052 822.4 1042.4 821.2 1032.7 818.8 1024.3 815.4 1017.6 811.2 1012.9 806.4 1010.1 801.6 1009.4 799.2 1009 795.6 1009.4 792 1010.1 789.6 1012.9 784.8 1017.7 780 1024.3 775.8 1032.7 772.4 1042.4 770 1052 768.9 1062.8 768.7M668.4 768.8 678 768.7 688.8 770 697.2 772 705.8 775.2 712.9 779.5 717.7 784 719.9 787.2 721.1 789.6 721.8 792 722.2 795.6 721.8 799.2 721.1 801.6 720 804 717.7 807.2 712.9 811.7 705.8 816 697.2 819.2 688.8 821.2 678 822.5 668.4 822.4M1062.8 630.9 1052 630.8 1042.4 629.6 1032.7 627.2 1024.3 623.8 1017.6 619.6 1012.9 614.8 1010.1 610 1009.4 607.6 1009 604 1009.4 600.4 1010.1 598 1012.9 593.2 1017.7 588.4 1024.3 584.2 1032.7 580.8 1042.4 578.4 1052 577.3 1062.8 577.1M668.4 577.2 678 577.1 688.8 578.4 697.2 580.4 705.8 583.6 712.9 587.9 717.7 592.4 719.9 595.6 721.1 598 721.8 600.4 722.2 604 721.8 607.6 721.1 610 720 612.4 717.7 615.6 712.9 620.1 705.8 624.4 697.2 627.6 688.8 629.6 678 630.9 668.4 630.8M796.4 503.4 796.3 514.2 795.1 523.8 792.7 533.3 789.3 541.7 785 548.4 780.2 553.1 775.4 555.9 773 556.6 769.4 557 765.8 556.6 763.4 555.9 758.6 553.2 753.8 548.4 749.5 541.7 746.1 533.3 743.7 523.8 742.5 514.2 742.4 503.4M988.8 503.4 988.7 514.2 987.5 523.8 985.1 533.3 981.7 541.7 977.4 548.4 972.6 553.1 967.8 555.9 965.4 556.6 961.8 557 958.2 556.6 955.8 555.9 951 553.2 946.2 548.4 941.9 541.7 938.5 533.3 936.1 523.8 934.9 514.2 934.8 503.4M856 822.1 848.8 821 842.8 819.6 836.7 817.6 831.9 815.4 827.1 812.6 823.8 810 820.5 806.4 818.3 802.8 817 799.2 816.6 794.4 817.3 790.8 818.9 787.2 821.5 783.6 825.3 780 829.5 777.1 834.3 774.7 840.3 772.4 846.4 770.8 852.4 769.6 859.6 768.9 866.8 768.6 874 769 881.2 770 887.2 771.3 892.3 772.8 898.2 775.2 902.9 777.8 907.4 781.2 910.7 784.8 913 788.4 914.2 792 914.6 795.6 914.2 799.2 913.5 801.6 911.6 805.2 909.8 807.6 904.4 812.4 896.9 816.6 888.4 819.6 877.6 821.8 866.8 822.6 856 822.1M764.6 747.9 759.8 745.6 755 741.4 751.4 736.6 747.8 729.6 745 721.4 743.3 713 742.4 703.4 742.5 693.8 743.4 685.4 745.4 676.9 747.8 669.9 751.5 662.7 755.2 657.9 759.8 654 764.6 651.7 767 651.1 770.6 651 774.2 651.7 776.6 652.6 781.4 655.8 786.2 661.2 789.9 667.5 793.1 675.9 795.3 685.4 796.4 696.2 796.3 705.8 795.1 715.4 792.7 724.9 789.8 732.2 785.5 739.3 781 744.1 777.8 746.3 775.4 747.5 770.6 748.6 767 748.4 764.6 747.9M957 747.9 952.2 745.6 947.4 741.4 943.8 736.6 940.2 729.6 937.4 721.4 935.7 713 934.8 703.4 934.9 693.8 935.8 685.4 937.8 676.9 940.2 669.9 943.9 662.7 947.6 657.9 952.2 654 957 651.7 959.4 651.1 963 651 966.6 651.7 969 652.6 973.8 655.8 978.6 661.2 982.3 667.5 985.5 675.9 987.7 685.4 988.8 696.2 988.7 705.8 987.5 715.4 985.1 724.9 982.2 732.2 977.9 739.3 973.4 744.1 970.2 746.3 967.8 747.5 963 748.6 959.4 748.4 957 747.9M856 630.5 844 628.3 838.9 626.8 833.1 624.4 828.6 622 825.2 619.6 822.3 616.9 819.6 613.6 817.7 610 816.8 606.4 816.6 602.8 817.3 599.2 818.9 595.6 821.5 592 824.7 588.9 828.3 586.3 833.1 583.6 837.9 581.6 848.8 578.6 860.8 577.2 866.8 577 874 577.4 886 579.4 892.1 581.2 896.9 583 901.7 585.5 906 588.4 908.9 591.1 911.6 594.4 913.5 598 914.4 601.6 914.6 605.2 913.9 608.8 912.4 612.4 909.8 616 906.5 619.2 902.9 621.8 898.2 624.4 893.3 626.4 887.2 628.3 881.2 629.6 875.2 630.5 868 631 856 630.5"/>
<path stroke="#4a8c9f" d="M731.4 896.2 731.7 881.8 733.6 867.5 737.1 854.3 741.7 843.2 744.5 838.7 747.3 835.1 750.2 832.3 753.8 829.6 757.4 827.7 761 826.4 765.1 825.5 769.4 825.2 773.7 825.5 777.8 826.4 781.8 827.9 786.1 830.3 789.1 832.7 792.2 836 797.1 843.3 801.7 854.3 805.1 867.5 807.1 881.8 807.3 896.2M923.8 896.2 924.1 881.8 926 867.5 929.5 854.3 934.1 843.2 936.9 838.7 939.7 835.1 942.6 832.3 946.2 829.6 949.8 827.7 953.4 826.4 957.5 825.5 961.8 825.2 966.1 825.5 970.2 826.4 974.2 827.9 978.5 830.3 981.5 832.7 984.6 836 989.5 843.3 994.1 854.3 997.5 867.5 999.5 881.8 999.7 896.2M1062.8 833.4 1048.4 833.1 1034 831.2 1020.7 827.8 1009.6 823.1 1005.1 820.4 1001.5 817.6 998.6 814.8 996 811.2 994.1 807.6 992.8 804 991.9 799.8 991.6 795.6 991.9 791.4 992.8 787.2 994.3 783.3 996.7 779 999.1 776 1002.4 772.8 1009.7 768.1 1020.7 763.5 1034 760 1048.4 758.1 1062.8 757.8M668.4 757.8 682.8 758.1 697.2 760 710.5 763.4 721.5 768.1 728.9 772.8 732.1 776 734.5 779 736.9 783.2 738.4 787.2 739.3 791.4 739.7 795.6 739.3 799.9 738.4 804 737.1 807.6 735.2 811.2 732.6 814.8 729.7 817.6 726.1 820.4 721.6 823.1 710.5 827.8 697.2 831.2 682.8 833.2 668.4 833.4M1062.8 641.8 1048.4 641.5 1034 639.6 1020.7 636.2 1009.6 631.5 1005.1 628.8 1001.5 626 998.6 623.2 996 619.6 994.1 616 992.8 612.4 991.9 608.2 991.6 604 991.9 599.8 992.8 595.6 994.3 591.7 996.7 587.4 999.1 584.4 1002.4 581.2 1009.7 576.5 1020.7 571.9 1034 568.4 1048.4 566.5 1062.8 566.2M668.4 566.2 682.8 566.5 697.2 568.4 710.5 571.8 721.5 576.5 728.9 581.2 732.1 584.4 734.5 587.4 736.9 591.6 738.4 595.6 739.3 599.8 739.7 604 739.3 608.3 738.4 612.4 737.1 616 735.2 619.6 732.6 623.2 729.7 626 726.1 628.8 721.6 631.5 710.5 636.2 697.2 639.6 682.8 641.6 668.4 641.8M807.4 503.4 807.1 517.8 805.1 532.1 801.7 545.3 797.1 556.3 792.2 563.6 789.1 566.9 786 569.3 781.8 571.7 777.8 573.2 773.6 574.1 769.4 574.4 765.2 574.1 761 573.2 757.4 571.9 753.8 570 750.2 567.3 747.3 564.5 744.5 560.9 741.7 556.4 737.1 545.3 733.6 532.1 731.7 517.8 731.4 503.4M999.8 503.4 999.5 517.8 997.5 532.1 994.1 545.3 989.5 556.3 984.6 563.6 981.5 566.9 978.4 569.3 974.2 571.7 970.2 573.2 966 574.1 961.8 574.4 957.6 574.1 953.4 573.2 949.8 571.9 946.2 570 942.6 567.3 939.7 564.5 936.9 560.9 934.1 556.4 929.5 545.3 926 532.1 924.1 517.8 923.8 503.4M852.4 832.8 844 831.6 836.7 830.2 828.8 827.9 822.3 825.5 816.3 822.6 811.4 819.5 807.3 816 804.3 812.2 801.7 807.6 799.8 801.6 799.2 796.8 799.6 790.8 801.2 784.8 803.6 780 807.4 775.2 811.5 771.7 816.3 768.6 822.4 765.7 829.5 763.1 837.9 760.8 846.4 759.2 854.8 758.2 865.6 757.7 872.8 757.9 881.2 758.7 889.7 760 898.1 762 905.8 764.5 912.5 767.3 918 770.5 922.6 774 925.9 777.6 928.9 782.4 931.2 788.4 932 794.4 931.7 800.4 930 806.4 927.6 811.2 923.9 816 919.8 819.5 914 823.1 906.5 826.5 898.5 829.1 889.7 831.2 880 832.7 871.6 833.4 862 833.4 852.4 832.8M765.8 765.7 761 764.8 757.4 763.5 751.1 759.7 747.8 756.6 745.4 753.7 740.5 745.6 736.3 734.5 733.3 722.1 731.7 709.4 731.4 695 732.6 681.8 735.3 668.7 739.3 656.7 743.7 648.3 746.2 644.7 749 641.8 755 637.3 758.6 635.6 762.2 634.5 765.8 633.8 770.6 633.7 775.4 634.2 779 635.2 782.6 636.7 786.2 638.8 789.1 641.1 792.2 644.4 797.2 651.9 799.5 656.7 801.9 663.2 805.4 677 807.2 691.4 807.3 704.6 806.1 717.8 803.5 730.9 799.5 742.8 794.7 752 792.2 755.2 789.1 758.5 786.2 760.7 782.6 762.9 778.7 764.5 774.2 765.6 770.6 765.9 765.8 765.7M958.2 765.7 953.4 764.8 949.8 763.5 943.5 759.7 940.2 756.6 937.8 753.7 932.9 745.6 928.7 734.5 925.7 722.1 924.1 709.4 923.8 695 925 681.8 927.7 668.7 931.7 656.7 936.1 648.3 938.6 644.7 941.4 641.8 947.4 637.3 951 635.6 954.6 634.5 958.2 633.8 963 633.7 967.8 634.2 971.4 635.2 975 636.7 978.6 638.8 981.5 641.1 984.6 644.4 989.6 651.9 991.9 656.7 994.3 663.2 997.8 677 999.6 691.4 999.7 704.6 998.5 717.8 995.9 730.9 991.9 742.8 987.1 752 984.6 755.2 981.5 758.5 978.6 760.7 975 762.9 971.1 764.5 966.6 765.6 963 765.9 958.2 765.7M852.4 641.2 844 640 836.7 638.6 828.8 636.3 822.3 633.9 816.3 631 811.4 628 807.3 624.4 804.3 620.6 801.7 616 799.8 610 799.2 605.2 799.6 599.2 801.2 593.2 803.6 588.4 807.4 583.6 811.5 580.1 816.3 577 822.4 574.1 829.5 571.5 837.9 569.2 846.4 567.6 854.8 566.6 865.6 566.1 872.8 566.3 881.2 567.1 889.7 568.4 898.1 570.4 905.8 572.9 912.5 575.7 918 578.9 922.6 582.4 925.9 586 928.9 590.8 931.2 596.8 932 602.8 931.7 608.8 930 614.8 927.6 619.6 923.9 624.4 919.8 628 914 631.5 906.5 634.9 898.5 637.5 889.7 639.6 880 641.1 871.6 641.8 862 641.8 852.4 641.2"/>
<path stroke="#40ab9b" d="M721.2 896.2 721.1 887.8 721.6 878.2 724.8 849.5 724.4 844.7 723.3 842.3 721.9 841.1 720.1 840.4 715.3 840 686.4 843.2 676.8 843.7 668.4 843.6M913.6 896.2 913.5 887.8 914 878.2 917.2 848.3 916.4 843.5 915.7 842.3 914.3 841.1 911.3 840.2 906.5 840.1 881.2 843 865.6 843.7 850 843 822.3 840 818.7 840.4 816.3 841.5 814.7 843.5 814 847.1 814.2 853.1 817.1 878.2 817.6 887.8 817.5 896.2M1062.8 843.6 1043.6 843.1 1015.9 840 1011.1 840.4 1009.3 841.1 1007.9 842.3 1006.7 844.7 1006.4 849.5 1009.5 878.2 1010 887.8 1009.9 896.2M668.4 747.7 686.4 748.1 711.7 750.9 717.7 751.2 721.3 750.4 723.3 748.9 724.4 746.5 724.8 742.9 721.8 715.4 721.1 699.8 721.8 684.2 724.7 659.1 724.6 654.3 723.7 651.3 722.5 649.9 721.3 649.2 716.5 648.4 686.4 651.6 676.8 652.1 668.4 652M1062.8 652 1044.8 651.6 1014.7 648.4 1009.9 649.2 1008.7 649.9 1007.5 651.2 1006.5 654.3 1006.4 659.1 1009.4 684.2 1010 699.8 1009.3 715.4 1006.4 742.9 1006.7 746.5 1007.8 748.9 1009.9 750.5 1013.5 751.2 1019.5 751 1044.8 748.1 1062.8 747.6M668.4 556.1 686.4 556.5 715.3 559.6 720.1 559.2 722.5 558.1 723.7 556.7 724.4 554.9 724.8 550.1 721.7 522.6 721.2 503.4M817.6 503.4 817.1 521.4 814.2 546.5 814 552.5 814.7 556.1 816.3 558.2 818.7 559.3 822.3 559.6 850 556.7 865.6 556 881.2 556.6 906.5 559.5 911.3 559.5 914.4 558.5 915.7 557.3 916.4 556.1 917.2 551.3 914 521.4 913.6 503.4M1010 503.4 1009.4 522.6 1006.4 550.1 1006.7 554.9 1007.5 556.8 1008.7 558.2 1011.1 559.3 1015.9 559.6 1043.6 556.6 1062.8 556M817.5 750.5 819.9 751.1 824.7 751.2 850 748.3 866.8 747.6 881.2 748.2 908.9 751.2 913.7 750.4 915.7 748.9 916.8 746.5 917.2 741.7 914.2 715.4 913.5 697.4 914.3 683 917.2 656.7 916.4 651.9 914.9 649.9 912.5 648.8 907.7 648.4 881.2 651.4 865.6 652.1 850 651.4 822.3 648.4 817.5 649.2 815.5 650.7 814.3 653.1 814 657.9 817 684.2 817.6 699.8 816.9 715.4 814 742.9 814.7 747.7 816.3 749.8 817.5 750.5"/>
<path stroke="#60c986" d="M711.2 896.2 711.6 863.9 710.8 859.1 709.6 856.7 708.5 855.5 706.9 854.4 704.5 853.7 699.7 853.1 668.4 853.6M903.6 896.2 904 863.9 902.9 858.3 902 856.7 900.5 855.2 896.9 853.7 892.1 853.1 865.6 853.7 841.6 853 835.5 853.4 831.9 854.4 829.5 856.2 828 859.1 827.2 862.7 827 866.3 827.5 896.2M1062.8 853.6 1030.3 853.1 1025.5 854 1023.1 855.1 1021.9 856.2 1020.4 859.1 1019.5 865.1 1019.9 896.2M668.4 737.7 698.5 738.2 702.1 738 705.7 737.3 708.5 735.7 710.3 733.3 711.4 729.7 711.7 723.8 711.1 699.8 711.7 673.5 711.1 668.7 709.6 665.1 708.1 663.6 706.5 662.7 700.9 661.6 668.4 662M1062.8 662 1030.3 661.5 1024.7 662.7 1023.1 663.5 1021.6 665.1 1020 668.7 1019.5 673.5 1020 699.8 1019.4 723.8 1019.8 729.7 1020.8 733.3 1022.6 735.7 1025.5 737.3 1029.1 738 1034 738.2 1062.8 737.7M668.4 546.1 699.7 546.6 705.7 545.7 708.5 544.1 709.6 542.9 710.8 540.5 711.6 535.7 711.1 503.4M827.6 503.4 827 532.1 827.2 536.9 827.9 540.5 829.5 543.5 831.9 545.2 835.5 546.3 841.6 546.6 865.6 546 892.1 546.6 896.9 546 900.5 544.5 902 542.9 902.9 541.4 904 535.7 903.5 503.4M1020 503.4 1019.5 534.5 1020.3 540.5 1021.9 543.5 1023.1 544.5 1025.5 545.7 1030.3 546.5 1062.8 546.1M839.1 738.2 865.6 737.6 892.1 738.2 898.1 737.3 900.5 736.1 901.7 735 903.2 732.1 904.1 726.1 903.5 699.8 904.1 674.7 903.9 671.1 903.2 667.5 902 665.1 900.9 663.9 899.3 662.8 896.9 662.1 892.1 661.5 865.6 662.1 840.3 661.5 836.7 661.6 833.1 662.4 830.7 663.5 829.5 664.6 828 667.5 827.1 673.5 827.6 698.6 827 722.6 827.2 728.5 828.3 733.1 830.2 735.7 833.1 737.3 839.1 738.2"/>
<path stroke="#aadf5a" d="M698.8 896.2 698.3 875.8 697.2 871.4 695.3 868.6 692.4 867.1 687.6 866.2 668.4 865.9M891.2 896.2 890.9 877 890 872.2 888.4 869.4 885.7 867.5 881.2 866.4 864.4 865.9 854.8 866 848.8 866.5 845.2 867.5 842.8 869.3 841.1 872.2 840.2 877 839.9 896.2M1062.8 865.9 1049.6 865.9 1042.4 866.3 1037.8 867.5 1035.2 869.3 1033.5 872.2 1032.6 877 1032.3 896.2M668.4 725.4 687.6 725.1 692.4 724.2 695.4 722.6 697.2 720.2 698.2 716.6 698.7 710.6 698.8 701 698.3 684.2 697.2 679.8 695.3 677 692.4 675.5 687.6 674.6 668.4 674.3M1062.8 674.3 1043.6 674.6 1038.8 675.5 1035.8 677 1034 679.5 1032.7 684.2 1032.2 701 1032.4 710.6 1032.9 716.6 1033.9 720.2 1035.7 722.6 1038.8 724.2 1043.6 725.1 1062.8 725.4M668.4 533.8 687.6 533.5 692.4 532.6 695.4 531 697.2 528.3 698.4 523.8 698.8 516.6 698.8 503.4M839.9 503.4 840.2 522.6 841.1 527.4 842.8 530.4 845.2 532.2 848.8 533.2 854.8 533.7 864.4 533.9 881.3 533.3 886 532.1 888.4 530.3 890 527.4 890.9 522.6 891.2 503.4M1032.3 503.4 1032.3 516.6 1032.7 523.8 1033.9 528.6 1035.7 531 1038.8 532.6 1043.6 533.5 1062.8 533.8M850 725 864.4 725.5 880 725.1 886 723.8 888.9 721.4 890.4 717.8 891 713 891.1 689 890.7 684.2 890 680.6 888.8 678.2 887.2 676.7 883.6 675.2 878.8 674.5 854.8 674.4 850 674.7 846.4 675.5 844 676.6 842.3 678.2 840.8 681.8 840 687.8 839.9 707 840.5 716.6 841.5 720.2 843.3 722.6 846.4 724.2 850 725"/>
<path stroke="#feeb45" d="M664.2 891.4a9.0 9.0 0 1 0 18.0 0a9.0 9.0 0 1 0 -18.0 0ZM664.2 699.8a9.0 9.0 0 1 0 18.0 0a9.0 9.0 0 1 0 -18.0 0ZM664.2 508.2a9.0 9.0 0 1 0 18.0 0a9.0 9.0 0 1 0 -18.0 0ZM856.6 891.4a9.0 9.0 0 1 0 18.0 0a9.0 9.0 0 1 0 -18.0 0ZM856.6 699.8a9.0 9.0 0 1 0 18.0 0a9.0 9.0 0 1 0 -18.0 0ZM856.6 508.2a9.0 9.0 0 1 0 18.0 0a9.0 9.0 0 1 0 -18.0 0ZM1049 891.4a9.0 9.0 0 1 0 18.0 0a9.0 9.0 0 1 0 -18.0 0ZM1049 699.8a9.0 9.0 0 1 0 18.0 0a9.0 9.0 0 1 0 -18.0 0ZM1049 508.2a9.0 9.0 0 1 0 18.0 0a9.0 9.0 0 1 0 -18.0 0Z"/>
</g>
<clipPath id="cf"><rect x="1261" y="509.9" width="384.8" height="383.2"/></clipPath>
<g clip-path="url(#cf)" fill="none" stroke-width="1.5" stroke-linejoin="round" stroke-linecap="round">
<path stroke="#644589" d="M1344.4 897.9 1344.3 890.7 1344.9 882.3 1346 875.1 1347.6 868.4 1350 861.5 1352.4 856.9 1354.8 854.1 1357.2 853.2 1359.6 854.1 1362 856.9 1364.4 861.6 1366.8 868.5 1368.4 875.1 1369.5 882.3 1370 890.7 1369.9 897.9M1536.8 897.9 1536.7 890.7 1537.3 882.3 1538.4 875.1 1540 868.4 1542.4 861.5 1544.8 856.9 1547.2 854.1 1549.6 853.2 1552 854.1 1554.4 856.9 1556.8 861.6 1559.2 868.5 1560.8 875.1 1561.9 882.3 1562.4 890.7 1562.3 897.9M1650.6 810 1642.2 810.1 1635 809.5 1627.8 808.4 1621.1 806.9 1614.1 804.5 1609.5 802.1 1606.7 799.7 1605.7 797.3 1606.7 794.9 1609.5 792.5 1614.1 790.1 1621.1 787.7 1627.8 786.2 1635 785.1 1642.2 784.6 1650.6 784.6M1256.2 784.6 1263.4 784.5 1271.8 785.1 1279 786.2 1285.7 787.7 1292.7 790.1 1297.3 792.5 1300.1 794.9 1301.1 797.3 1300.1 799.7 1297.3 802.1 1292.7 804.5 1285.8 806.9 1279 808.5 1271.8 809.5 1263.4 810.1 1256.2 810M1650.6 618.4 1642.2 618.5 1635 617.9 1627.8 616.8 1621.1 615.3 1614.1 612.9 1609.5 610.5 1606.7 608.1 1605.7 605.7 1606.7 603.3 1609.5 600.9 1614.1 598.5 1621.1 596.1 1627.8 594.6 1635 593.5 1642.2 593 1650.6 593M1256.2 593 1263.4 592.9 1271.8 593.5 1279 594.6 1285.7 596.1 1292.7 598.5 1297.3 600.9 1300.1 603.3 1301.1 605.7 1300.1 608.1 1297.3 610.5 1292.7 612.9 1285.8 615.3 1279 616.9 1271.8 617.9 1263.4 618.5 1256.2 618.4M1370 505.1 1370 513.5 1369.5 520.7 1368.4 527.9 1366.8 534.5 1364.4 541.4 1362 546.1 1359.6 548.9 1357.2 549.8 1354.8 548.9 1352.4 546.1 1350 541.4 1347.6 534.5 1346 527.9 1344.9 520.7 1344.4 513.5 1344.4 505.1M1562.4 505.1 1562.4 513.5 1561.9 520.7 1560.8 527.9 1559.2 534.5 1556.8 541.4 1554.4 546.1 1552 548.9 1549.6 549.8 1547.2 548.9 1544.8 546.1 1542.4 541.4 1540 534.5 1538.4 527.9 1537.3 520.7 1536.8 513.5 1536.8 505.1M1441.4 809.4 1430.6 807.4 1422.1 804.7 1417.1 802.1 1414.9 800.4 1413.5 798.5 1413.3 797.3 1413.7 795.8 1415.4 793.7 1417.1 792.5 1422.1 790 1430.6 787.2 1440.2 785.4 1448.6 784.6 1457 784.5 1466.6 785.4 1476.2 787.2 1484.7 790 1489.7 792.5 1491.9 794.2 1493.3 796.1 1493.5 797.3 1493.1 798.8 1491.4 800.9 1489.7 802.1 1484.7 804.7 1476.2 807.4 1467.8 809.1 1459.4 809.9 1449.8 810.1 1441.4 809.4M1356 741.2 1353.6 739.3 1351.2 735.6 1347.6 726.1 1345.1 713.5 1344.3 700.3 1345.4 687.1 1346.5 681.1 1348.5 674 1350 669.9 1352.4 665.3 1354.8 662.5 1357.2 661.6 1359.6 662.5 1362 665.3 1364.4 670 1365.9 674 1367.9 681.1 1369 687.1 1369.8 694.3 1370.1 701.5 1369.8 708.7 1369 715.9 1367.6 723.1 1365.6 729.9 1363.2 735.6 1360.8 739.3 1358.4 741.2 1356 741.2M1548.4 741.2 1546 739.3 1543.6 735.6 1540 726.1 1537.5 713.5 1536.7 700.3 1537.8 687.1 1538.9 681.1 1540.9 674 1542.4 669.9 1544.8 665.3 1547.2 662.5 1549.6 661.6 1552 662.5 1554.4 665.3 1556.8 670 1558.3 674 1560.3 681.1 1561.4 687.1 1562.2 694.3 1562.5 701.5 1562.2 708.7 1561.4 715.9 1560 723.1 1558 729.9 1555.6 735.6 1553.2 739.3 1550.8 741.2 1548.4 741.2M1441.4 617.8 1430.6 615.8 1422.1 613.1 1417.1 610.5 1414.9 608.8 1413.5 606.9 1413.3 605.7 1413.7 604.2 1415.4 602.1 1417.1 600.9 1422.1 598.4 1430.6 595.6 1440.2 593.8 1448.6 593 1457 592.9 1466.6 593.8 1476.2 595.6 1484.7 598.4 1489.7 600.9 1491.9 602.6 1493.3 604.5 1493.5 605.7 1493.1 607.2 1491.4 609.3 1489.7 610.5 1484.7 613.1 1476.2 615.8 1467.8 617.5 1459.4 618.3 1449.8 618.5 1441.4 617.8"/>
<path stroke="#586c9d" d="M1334.8 897.9 1334.8 887.1 1335.8 876.3 1337.8 865.6 1340.5 856 1344.2 846.4 1348.8 837.5 1351.2 834 1353.6 831.4 1356 830 1357.2 829.8 1358.4 830 1360.8 831.4 1363.2 834 1365.6 837.5 1370.2 846.4 1373.9 856 1376.5 865.6 1378.5 876.3 1379.5 887.1 1379.6 897.9M1527.2 897.9 1527.2 887.1 1528.2 876.3 1530.2 865.6 1532.9 856 1536.6 846.4 1541.2 837.5 1543.6 834 1546 831.4 1548.4 830 1549.6 829.8 1550.8 830 1553.2 831.4 1555.6 834 1558 837.5 1562.6 846.4 1566.3 856 1568.9 865.6 1570.9 876.3 1571.9 887.1 1572 897.9M1650.6 819.6 1639.8 819.6 1629 818.6 1618.1 816.6 1608.5 813.9 1598.9 810.3 1589.9 805.7 1586.4 803.3 1583.9 800.9 1582.4 798.5 1582.3 797.3 1582.4 796.1 1583.9 793.7 1586.4 791.3 1589.9 788.9 1598.9 784.3 1608.5 780.7 1618.1 778 1629 776.1 1639.8 775.1 1650.6 775M1256.2 775 1267 775 1277.8 776 1288.7 778 1298.3 780.7 1307.9 784.3 1316.9 788.9 1320.3 791.3 1322.9 793.7 1324.3 796.1 1324.5 797.3 1324.4 798.5 1322.9 800.9 1320.4 803.3 1316.9 805.7 1307.9 810.3 1298.3 813.9 1288.7 816.6 1277.8 818.6 1267 819.6 1256.2 819.6M1650.6 628 1639.8 628 1629 627 1618.1 625 1608.5 622.3 1598.9 618.7 1589.9 614.1 1586.4 611.7 1583.9 609.3 1582.4 606.9 1582.3 605.7 1582.4 604.5 1583.9 602.1 1586.4 599.7 1589.9 597.3 1598.9 592.7 1608.5 589.1 1618.1 586.4 1629 584.5 1639.8 583.5 1650.6 583.4M1256.2 583.4 1267 583.4 1277.8 584.4 1288.7 586.4 1298.3 589.1 1307.9 592.7 1316.9 597.3 1320.3 599.7 1322.9 602.1 1324.3 604.5 1324.5 605.7 1324.4 606.9 1322.9 609.3 1320.4 611.7 1316.9 614.1 1307.9 618.7 1298.3 622.3 1288.7 625 1277.8 627 1267 628 1256.2 628M1379.6 505.1 1379.5 515.9 1378.5 526.7 1376.5 537.4 1373.9 547 1370.2 556.6 1365.6 565.5 1363.2 569 1360.8 571.6 1358.4 573 1357.2 573.2 1356 573 1353.6 571.6 1351.2 569 1348.8 565.5 1344.2 556.6 1340.5 547 1337.9 537.4 1335.9 526.7 1334.9 515.9 1334.8 505.1M1572 505.1 1571.9 515.9 1570.9 526.7 1568.9 537.4 1566.3 547 1562.6 556.6 1558 565.5 1555.6 569 1553.2 571.6 1550.8 573 1549.6 573.2 1548.4 573 1546 571.6 1543.6 569 1541.2 565.5 1536.6 556.6 1532.9 547 1530.3 537.4 1528.3 526.7 1527.3 515.9 1527.2 505.1M1439 818.9 1424.5 816.3 1416.6 814.1 1409.8 811.7 1402.9 808.6 1397.5 805.7 1392.6 802.1 1390.6 799.7 1389.9 797.3 1390.6 794.9 1392.6 792.5 1395.7 790.1 1400.5 787.2 1406.5 784.3 1419.7 779.6 1433 776.6 1446.2 775.1 1459.4 775 1473.8 776.6 1488.3 779.9 1501.5 784.9 1507.2 787.7 1512.7 791.3 1515.3 793.7 1516.7 796.1 1516.8 798.5 1515.3 800.9 1512.8 803.3 1509.3 805.7 1499.1 810.8 1487.1 815 1475 817.8 1463 819.3 1451 819.7 1439 818.9M1354.8 764.1 1351.2 760.6 1347.6 755.1 1343.6 747 1340.1 737.4 1337.6 727.8 1335.9 718.3 1334.9 708.7 1334.7 699.1 1335.3 689.5 1336.8 679.1 1339.1 669.2 1341.8 660.8 1345.8 651.2 1350 644 1353.6 639.8 1356 638.4 1357.2 638.2 1358.4 638.4 1360.8 639.8 1365.2 645.2 1369.2 652.6 1373.5 663.2 1376.4 673.5 1378.4 683.5 1379.5 694.3 1379.7 703.9 1379 714.7 1377.3 725.4 1374.6 736.2 1371.2 745.8 1366.8 755.1 1362 762 1359.6 764 1358.4 764.6 1357.2 764.8 1354.8 764.1M1547.2 764.1 1543.6 760.6 1540 755.1 1536 747 1532.5 737.4 1530 727.8 1528.3 718.3 1527.3 708.7 1527.1 699.1 1527.7 689.5 1529.2 679.1 1531.5 669.2 1534.2 660.8 1538.2 651.2 1542.4 644 1546 639.8 1548.4 638.4 1549.6 638.2 1550.8 638.4 1553.2 639.8 1557.6 645.2 1561.6 652.6 1565.9 663.2 1568.8 673.5 1570.8 683.5 1571.9 694.3 1572.1 703.9 1571.4 714.7 1569.7 725.4 1567 736.2 1563.6 745.8 1559.2 755.1 1554.4 762 1552 764 1550.8 764.6 1549.6 764.8 1547.2 764.1M1439 627.3 1424.5 624.7 1416.6 622.5 1409.8 620.1 1402.9 617 1397.5 614.1 1392.6 610.5 1390.6 608.1 1389.9 605.7 1390.6 603.3 1392.6 600.9 1395.7 598.5 1400.5 595.6 1406.5 592.7 1419.7 588 1433 585 1446.2 583.5 1459.4 583.4 1473.8 585 1488.3 588.3 1501.5 593.3 1507.2 596.1 1512.7 599.7 1515.3 602.1 1516.7 604.5 1516.8 606.9 1515.3 609.3 1512.8 611.7 1509.3 614.1 1499.1 619.2 1487.1 623.4 1475 626.2 1463 627.7 1451 628.1 1439 627.3"/>
<path stroke="#4a8c9f" d="M1324.9 897.9 1324.9 888.3 1325.6 877.5 1327.1 867.3 1329.4 857.2 1332.1 847.6 1336 836.8 1348.5 809.3 1349.2 806.9 1349.2 805.7 1348.8 805.3 1346.4 805.5 1344 806.4 1327.6 814.1 1316.3 818.9 1306.7 822.2 1298.3 824.7 1287.5 827.1 1277.8 828.6 1267 829.5 1256.2 829.5M1517.3 897.9 1517.3 888.3 1518 877.5 1519.4 868 1521.5 858.4 1524.5 847.6 1528.4 836.8 1541.4 808.1 1541.6 805.7 1541.2 805.3 1540 805.2 1535.2 806.9 1511.1 817.9 1502.1 821.2 1493.1 824.1 1483.5 826.4 1472.6 828.3 1463 829.3 1453.4 829.6 1442.6 829.2 1433 828.1 1423.3 826.4 1413.7 824.1 1398.1 818.8 1386.8 814.1 1370.4 806.4 1368 805.5 1365.6 805.3 1365.2 805.7 1365.2 806.9 1365.9 809.3 1378.3 836.8 1382.2 847.6 1385 857.2 1387.3 867.4 1388.7 877.5 1389.5 888.3 1389.5 897.9M1650.6 829.5 1639.8 829.4 1630.2 828.7 1620 827.2 1609.7 825 1600.1 822.2 1589.3 818.4 1561.6 806 1559.2 805.2 1558 805.3 1557.6 805.7 1557.8 808.1 1558.8 810.5 1566.4 826.8 1571.2 838.1 1574.6 847.6 1577.1 856 1579.5 866.8 1581 876.3 1581.9 887.1 1581.9 897.9M1256.2 765.1 1265.8 765.1 1276.6 765.9 1286.8 767.4 1297.1 769.6 1306.7 772.4 1317.5 776.2 1345.2 788.7 1347.6 789.4 1348.8 789.3 1349.2 788.9 1349 786.5 1348 784.1 1340.4 767.9 1335.6 756.6 1330.3 741 1328 731.4 1326.3 721.9 1325.2 712.3 1324.8 701.5 1325.1 691.9 1326.1 682.3 1328 671.6 1330.3 662 1333.2 653 1336.5 644 1347.5 620.1 1349.2 615.3 1349.2 614.1 1348.8 613.7 1346.4 613.9 1317.5 626.8 1306.7 630.6 1295.9 633.7 1286.3 635.8 1276.6 637.1 1265.8 637.9 1256.2 637.9M1650.6 637.9 1639.8 637.8 1630.2 637.1 1620 635.6 1609.7 633.4 1600.1 630.6 1589.3 626.8 1561.6 614.4 1559.2 613.6 1558 613.7 1557.6 614.1 1557.8 616.5 1558.8 618.9 1566.4 635.2 1571.2 646.4 1576.5 662 1578.8 671.6 1580.7 682.3 1581.7 691.9 1582 701.5 1581.6 712.3 1580.5 721.9 1578.8 731.4 1576.4 741 1573.7 749.9 1570.3 759 1559.3 782.9 1557.6 787.7 1557.6 788.9 1558 789.3 1560.4 789.1 1589.3 776.2 1600.1 772.4 1610.9 769.3 1620.5 767.3 1630.2 765.9 1639.8 765.2 1650.6 765.1M1256.2 573.5 1267 573.6 1277.8 574.4 1287.5 575.9 1298.3 578.3 1306.7 580.8 1316.2 584.1 1327.6 588.9 1344 596.6 1346.4 597.5 1348.8 597.7 1349.2 597.3 1349.2 596.1 1348.5 593.7 1336 566.2 1332.2 555.4 1329.4 545.8 1327.1 535.6 1325.7 525.5 1324.9 515.9 1324.9 505.1M1389.5 505.1 1389.5 515.9 1388.7 525.5 1387.4 535 1385.3 544.6 1382.2 555.4 1378.3 566.2 1365.4 594.9 1365.2 597.3 1365.6 597.7 1366.8 597.8 1371.6 596.1 1395.7 585.1 1404.7 581.8 1413.7 579 1423.3 576.6 1433 574.9 1442.6 573.9 1453.4 573.4 1463 573.8 1472.6 574.7 1483.5 576.6 1493.1 579 1508.7 584.2 1520 588.9 1536.4 596.6 1538.8 597.5 1541.2 597.7 1541.6 597.3 1541.6 596.1 1540.9 593.7 1528.4 566.2 1524.6 555.4 1521.8 545.8 1519.5 535.6 1518.1 525.5 1517.3 515.9 1517.3 505.1M1581.9 505.1 1581.9 515.9 1581.1 525.5 1579.7 535.5 1577.4 545.8 1574.6 555.4 1570.7 566.2 1558.3 593.7 1557.6 596.1 1557.6 597.3 1558 597.7 1560.4 597.5 1562.8 596.6 1579.2 588.9 1590.6 584.1 1600.1 580.8 1608.5 578.3 1619.3 575.9 1629 574.4 1639.8 573.6 1650.6 573.5M1365.6 789.3 1368 789.1 1370.4 788.2 1386.8 780.5 1398.1 775.8 1413.7 770.6 1423.3 768.2 1433 766.5 1442.6 765.5 1453.4 765 1463 765.4 1472.6 766.3 1483.5 768.2 1493.1 770.6 1508.7 775.8 1520 780.5 1536.4 788.2 1538.8 789.1 1541.2 789.3 1541.6 788.9 1541.6 787.7 1540.9 785.3 1529.2 759.5 1525.3 749.4 1522.4 739.8 1520.1 730.2 1518.5 720.7 1517.5 711.1 1517.2 701.5 1517.5 691.9 1518.5 682.3 1520.4 671.6 1522.7 662 1528 646.4 1532.8 635.1 1540.4 618.9 1541.4 616.5 1541.6 614.1 1541.2 613.7 1540 613.6 1537.6 614.3 1511.7 626.1 1501.5 629.9 1491.9 632.8 1482.3 635.1 1472.6 636.7 1463 637.7 1453.4 638 1443.8 637.6 1434.2 636.7 1424.5 635.1 1414.9 632.8 1405.3 629.9 1395.1 626.1 1369.2 614.4 1366.8 613.6 1365.6 613.7 1365.2 614.1 1365.4 616.5 1366.4 618.9 1374 635.2 1378.8 646.4 1384.1 662 1386.4 671.6 1388.3 682.3 1389.3 691.9 1389.6 701.5 1389.3 711.1 1388.3 720.7 1386.7 730.2 1384.4 739.8 1381.4 749.4 1377.6 759.5 1365.9 785.3 1365.2 787.7 1365.2 788.9 1365.6 789.3"/>
<path stroke="#40ab9b" d="M1315 897.9 1315 885.9 1316.1 872.7 1317.7 862 1322 839.2 1321.9 835.6 1321.1 833.8 1318.7 832.4 1315.1 832.3 1292.3 836.6 1281.4 838.2 1268.2 839.3 1256.2 839.4M1507.4 897.9 1507.4 885.9 1508.5 872.7 1510.1 862 1514.4 839.2 1514.3 835.6 1513.5 833.8 1512.3 832.9 1509.9 832.3 1506.3 832.4 1476.2 837.9 1464.2 839.1 1453.4 839.5 1442.6 839.1 1431.5 838 1420.9 836.4 1402.9 832.8 1398.1 832.3 1395.7 832.4 1393.3 833.8 1392.5 835.6 1392.3 838 1392.8 842.8 1396.4 860.8 1398.3 872.7 1399.4 885.9 1399.4 897.9M1650.6 839.4 1637.4 839.2 1625.4 838.2 1614.5 836.6 1591.7 832.3 1588.1 832.4 1585.7 833.8 1584.9 835.6 1584.8 839.2 1589 862 1590.7 872.7 1591.8 885.9 1591.8 897.9M1256.2 755.3 1268.2 755.3 1281.4 756.4 1293.5 758.2 1311.5 761.8 1316.3 762.4 1318.7 762.2 1320.5 761.4 1321.9 759 1322.1 756.6 1321.6 751.8 1318 733.8 1316.3 723.3 1315.2 712.3 1314.9 701.5 1315.2 690.7 1316.4 678.7 1321.9 648.8 1322.1 645.2 1321.5 642.8 1320.5 641.6 1318.7 640.8 1315.1 640.7 1292.3 645 1281.4 646.6 1268.2 647.7 1256.2 647.8M1650.6 647.8 1637.4 647.6 1625.4 646.6 1614.5 645 1591.7 640.7 1588.1 640.8 1586.3 641.6 1585.3 642.8 1584.7 645.2 1584.9 648.8 1590.4 678.7 1591.6 690.7 1591.9 701.5 1591.5 712.3 1590.5 723.1 1588.8 733.8 1585.2 751.8 1584.7 756.6 1584.9 759 1585.7 760.8 1588.1 762.2 1590.5 762.4 1595.3 761.8 1613.3 758.3 1625.4 756.4 1637.4 755.4 1650.6 755.2M1256.2 563.7 1268.2 563.7 1281.4 564.8 1292.3 566.4 1315.1 570.7 1318.7 570.6 1320.5 569.8 1321.9 567.4 1322 563.8 1317.8 541 1316.1 530.3 1315.1 518.3 1314.9 505.1M1399.4 505.1 1399.3 518.3 1398.2 530.3 1396.4 542.2 1392.8 560.2 1392.3 565 1392.5 567.4 1393.3 569.2 1395.7 570.6 1398.1 570.8 1402.9 570.2 1420.9 566.7 1431.7 565 1442.6 563.9 1453.4 563.6 1464.2 563.9 1476.2 565.1 1506.3 570.6 1509.9 570.7 1512.3 570.2 1513.5 569.2 1514.3 567.4 1514.4 563.8 1510.2 541 1508.5 530.3 1507.5 518.3 1507.3 505.1M1591.8 505.1 1591.7 518.3 1590.6 530.3 1589 541 1584.7 563.8 1584.9 567.4 1585.7 569.2 1588.1 570.6 1591.7 570.7 1614.5 566.4 1625.4 564.8 1637.4 563.8 1650.6 563.6M1394.5 761.8 1396.9 762.3 1400.5 762.2 1430.6 756.7 1441.4 755.6 1453.4 755.2 1464.2 755.5 1476.2 756.7 1507.5 762.3 1511.1 762.2 1513.5 760.8 1514.5 757.8 1514.3 754.2 1508.8 724.3 1507.7 713.5 1507.3 701.5 1507.6 690.7 1508.8 678.7 1514.4 647.6 1514.3 644 1512.9 641.6 1509.9 640.7 1506.3 640.8 1476.2 646.3 1465.4 647.4 1454.6 647.8 1442.6 647.5 1431.8 646.4 1399.3 640.7 1395.7 640.8 1393.3 642.2 1392.3 645.2 1392.5 648.8 1398 678.7 1399.1 689.5 1399.5 700.3 1399.1 712.3 1398.1 723.1 1392.3 755.4 1392.5 759 1393.3 760.8 1394.5 761.8"/>
<path stroke="#60c986" d="M1304.8 897.9 1305 881.1 1307 857.2 1306.7 852.4 1305.5 849.6 1303.1 847.9 1298.3 847.3 1271.8 849.3 1256.2 849.5M1497.2 897.9 1497.4 882.3 1499.4 856 1498.8 851.2 1497.9 849.6 1496.7 848.5 1494.3 847.6 1489.5 847.3 1466.6 849.2 1453.4 849.6 1440.2 849.2 1416.1 847.3 1412.5 847.6 1409.7 848.8 1408 851.2 1407.5 853.6 1407.5 859.6 1409.5 883.5 1409.6 897.9M1650.6 849.6 1633.8 849.2 1608.5 847.3 1603.7 847.9 1601.3 849.6 1600.1 852.4 1599.8 857.2 1601.8 881.1 1602 897.9M1256.2 745.1 1270.6 745.2 1294.7 747.2 1300.7 747.2 1303.1 746.7 1305.5 745 1306.7 742.2 1307 738.6 1305.1 714.7 1304.7 701.5 1305.1 688.3 1307 665.6 1306.7 660.8 1305.8 658.4 1304.7 657.2 1303.1 656.3 1298.3 655.7 1271.8 657.7 1256.2 657.9M1650.6 658 1633.8 657.6 1608.5 655.7 1603.7 656.3 1602.1 657.2 1601 658.4 1600.1 660.8 1599.8 665.6 1601.7 688.3 1602.1 701.5 1601.7 714.7 1599.8 738.6 1600.1 742.3 1601.3 745.1 1603.7 746.7 1606.1 747.2 1612.1 747.2 1635 745.3 1650.6 745.1M1256.2 553.5 1273 553.8 1297.1 555.7 1301.9 555.4 1304.7 554.2 1306.4 551.8 1307 547 1305 521.9 1304.7 505.1M1409.6 505.1 1409.4 520.7 1407.5 543.4 1407.5 549.4 1408 551.8 1409.7 554.2 1412.4 555.4 1416.1 555.7 1440.2 553.9 1453.4 553.4 1466.6 553.8 1489.5 555.7 1494.3 555.4 1496.7 554.5 1497.9 553.4 1498.8 551.8 1499.4 547 1497.4 521.9 1497.1 505.1M1602 505.1 1601.7 521.9 1599.8 547 1600.4 551.8 1602.1 554.2 1604.9 555.4 1609.7 555.7 1633.8 553.8 1650.6 553.5M1412.5 747 1418.5 747.2 1440.2 745.5 1454.6 745 1466.6 745.4 1491.9 747.3 1495.5 746.7 1497.9 745 1499.1 742.2 1499.4 737.4 1497.4 713.5 1497.1 697.9 1497.6 687.1 1499.4 664.4 1498.8 659.6 1497.1 657.2 1494.3 656 1489.5 655.7 1465.4 657.7 1449.8 657.9 1439 657.5 1416.1 655.7 1411.3 656.3 1408.9 658 1407.7 660.8 1407.4 665.6 1409.4 689.5 1409.6 705.1 1407.4 739.8 1407.7 742.3 1408.6 744.6 1410.1 746.1 1412.5 747"/>
<path stroke="#aadf5a" d="M1291.5 897.9 1291.4 872.7 1290.6 868 1289.3 865.6 1287.9 864.4 1286.3 863.6 1282.6 862.9 1256.2 862.8M1483.9 897.9 1483.7 871.5 1483 868 1482.3 866.3 1481.1 864.9 1477.5 863.3 1472.6 862.8 1439 862.7 1431.8 862.9 1428.1 863.6 1425.7 864.9 1424.2 866.8 1423.3 869.6 1422.9 873.9 1422.9 897.9M1650.6 862.8 1624.2 862.9 1620.5 863.6 1618.8 864.4 1617.4 865.6 1616.2 868 1615.4 872.7 1615.3 897.9M1256.2 731.9 1280.2 731.9 1284.6 731.4 1287.5 730.5 1289.4 729 1290.6 726.6 1291.3 723.1 1291.5 715.9 1291.5 682.3 1290.9 677.5 1289.3 674 1287.9 672.8 1286.3 672 1282.6 671.3 1256.2 671.2M1650.6 671.2 1624.2 671.3 1620.5 672 1618.8 672.8 1617.4 674 1615.8 677.5 1615.3 682.3 1615.2 715.9 1615.5 723.1 1616.1 726.6 1617.4 729 1619.3 730.5 1622.2 731.4 1626.6 731.9 1650.6 731.8M1256.2 540.3 1281.4 540.2 1286.3 539.4 1288.7 538.1 1289.9 536.8 1290.6 535 1291.3 531.5 1291.4 505.1M1422.9 505.1 1422.9 529.1 1423.3 533.4 1424.2 536.2 1425.7 538.2 1428.1 539.4 1431.8 540.1 1439 540.3 1472.6 540.3 1477.5 539.7 1481.1 538.1 1482.3 536.8 1483 535 1483.7 531.5 1483.8 505.1M1615.3 505.1 1615.4 530.3 1616.1 535 1617.4 537.4 1618.8 538.6 1620.5 539.4 1624.2 540.1 1650.6 540.2M1430.6 731.6 1437.8 731.9 1472.6 731.9 1478.7 731 1480.4 730.2 1481.8 729 1483.4 725.4 1483.9 720.7 1483.9 684.7 1483.3 677.5 1482.5 675.2 1481.1 673.3 1477.5 671.7 1472.6 671.2 1436.6 671.1 1429.3 671.7 1426.9 672.5 1425 674 1423.4 677.5 1422.9 682.3 1423.1 723.1 1423.7 726.6 1425 729 1426.9 730.5 1430.6 731.6"/>
<path stroke="#feeb45" d="M1275.7 897.9 1275.9 894.3 1275.4 885.9 1274.3 882.3 1273 880.7 1270.6 879.4 1267.8 878.7 1259.8 878.3 1256.2 878.5M1468.1 897.9 1468.3 894.3 1467.8 886.3 1467.2 883.5 1465.9 881.1 1464.2 879.8 1461.8 879 1452.2 878.3 1447.4 878.6 1443.8 879.3 1441.4 880.7 1440.2 882.1 1439.2 884.7 1438.7 888.3 1438.7 897.9M1650.6 878.5 1644.6 878.3 1638.6 878.8 1635 879.8 1633.3 881.1 1632 883.5 1631.2 887.1 1631.1 897.9M1256.2 716.2 1265.8 716.1 1269.4 715.6 1272 714.7 1273.5 713.5 1274.8 711.1 1275.6 707.5 1275.9 702.7 1275.1 693.1 1274.3 690.7 1273 689.1 1270.6 687.8 1267.8 687.1 1259.8 686.7 1256.2 686.9M1650.6 686.9 1644.6 686.7 1639.8 687 1636.2 687.7 1633.8 689.1 1632.5 690.7 1631.6 693.1 1630.9 702.7 1631.2 707.5 1631.9 711.1 1633.3 713.5 1634.8 714.7 1637.4 715.6 1641 716.2 1650.6 716.1M1256.2 524.6 1267 524.4 1270.6 523.7 1273 522.3 1274.3 520.7 1275.4 517.1 1275.9 511.1 1275.6 505.1M1438.7 505.1 1438.7 514.7 1439.2 518.3 1440.2 520.9 1441.4 522.4 1443.8 523.7 1447.4 524.4 1452.2 524.7 1461.8 524 1464.2 523.2 1465.9 521.9 1467.2 519.5 1468 515.9 1468.3 511.1 1468 505.1M1631.1 505.1 1630.9 511.1 1631.2 515.9 1631.9 519.5 1633.3 521.9 1635 523.2 1638.6 524.3 1644.6 524.7 1650.6 524.5M1446.2 715.9 1452.2 716.3 1460.6 715.8 1464.4 714.7 1466.6 712.4 1467.6 709.9 1468.1 706.3 1468 696.7 1467.5 693.1 1466.7 690.7 1464.4 688.3 1461.8 687.4 1458.2 686.9 1448.6 686.9 1445 687.4 1442.6 688.2 1440.2 690.5 1439.2 693.1 1438.6 697.9 1438.5 703.9 1439.2 709.9 1440.1 712.3 1441.4 714 1443.8 715.3 1446.2 715.9"/>
</g>
<clipPath id="cg"><rect x="85.8" y="978.4" width="384.8" height="383.2"/></clipPath>
<g clip-path="url(#cg)" fill="none" stroke-width="1.5" stroke-linejoin="round" stroke-linecap="round">
<path stroke="#72d06f" d="M204.1 1366.4 203.9 1360.4 204.5 1353.2 205.9 1346 208.2 1338.8 211.3 1331.7 215.4 1324.5 219.6 1318.5 224.6 1312.5 230.1 1307.2 236.1 1302.3 242.4 1298.1 249.3 1294.4 256.6 1291.4 263.8 1289.3 271 1288.1 278.2 1287.6 285.4 1288.1 292.6 1289.3 299.8 1291.4 307.1 1294.4 314 1298.1 320.3 1302.3 326.3 1307.2 331.8 1312.5 336.8 1318.5 341 1324.5 345.1 1331.7 348.2 1338.8 350.5 1346 351.9 1353.2 352.5 1360.4 352.3 1366.4M396.5 1366.4 396.4 1359.2 397.1 1352 398.6 1344.8 401 1337.7 404.3 1330.5 408.5 1323.3 412.9 1317.3 418.9 1310.6 424.9 1305.1 431 1300.5 438.1 1296.2 445.3 1292.8 452.6 1290.3 460 1288.6 468.2 1287.7 475.4 1287.8M81 1287.8 88.2 1287.7 96.4 1288.6 103.8 1290.3 111.1 1292.8 118.3 1296.2 125.4 1300.5 131.5 1305.1 137.5 1310.6 143.5 1317.3 147.9 1323.3 152.1 1330.5 155.4 1337.7 157.8 1344.8 159.3 1352 160 1359.2 159.9 1366.4M475.4 1243.8 468.2 1243.9 462.2 1243.4 455 1242 447.8 1239.7 440.5 1236.6 433.3 1232.6 427.3 1228.4 421.3 1223.3 416 1217.9 411.1 1211.9 406.9 1205.7 403.1 1198.7 400.1 1191.6 398 1184.4 396.8 1177.2 396.3 1170 396.8 1162.8 398 1155.6 400.1 1148.4 403.1 1141.3 406.9 1134.3 411.1 1128.1 416 1122.1 421.3 1116.7 427.3 1111.6 433.3 1107.4 440.5 1103.4 447.8 1100.3 455 1098 462.2 1096.6 468.2 1096.1 475.4 1096.2M81 1096.2 87 1096.1 94.2 1096.6 101.4 1098 108.6 1100.3 115.9 1103.4 123.1 1107.4 129.1 1111.6 135.1 1116.7 140.4 1122.1 145.3 1128.1 149.5 1134.3 153.3 1141.3 156.3 1148.4 158.4 1155.6 159.6 1162.8 160.1 1170 159.6 1177.2 158.4 1184.4 156.3 1191.6 153.3 1198.7 149.5 1205.7 145.3 1211.9 140.4 1217.9 135.1 1223.3 129.1 1228.4 123.1 1232.6 115.9 1236.6 108.6 1239.7 101.4 1242 94.2 1243.4 87 1243.9 81 1243.8M475.4 1052.2 468.2 1052.3 460 1051.4 452.6 1049.7 445.3 1047.2 438.1 1043.8 431 1039.5 424.9 1034.9 418.9 1029.4 412.9 1022.7 408.5 1016.7 404.3 1009.5 401 1002.4 398.6 995.2 397.1 988 396.4 980.8 396.5 973.6M159.9 973.6 160 980.8 159.2 988.9 157.4 996.4 154.9 1003.5 151.5 1010.7 147.1 1017.8 142.5 1023.9 137 1029.9 130.3 1035.9 124.3 1040.2 117.1 1044.4 109.8 1047.7 102.6 1050.1 95.4 1051.6 88.2 1052.3 81 1052.2M352.3 973.6 352.4 980.8 351.9 986.8 350.5 994 348.2 1001.2 345.1 1008.3 341 1015.5 336.8 1021.5 331.8 1027.5 326.3 1032.8 320.3 1037.7 314 1041.9 307.1 1045.6 299.8 1048.6 292.6 1050.7 285.4 1051.9 278.2 1052.4 271 1051.9 263.8 1050.7 256.6 1048.6 249.3 1045.6 242.4 1041.9 236.1 1037.7 230.1 1032.8 224.6 1027.5 219.6 1021.5 215.4 1015.5 211.3 1008.3 208.2 1001.2 205.9 994 204.5 986.8 204 980.8 204.1 973.6M268.6 1243.2 262.1 1241.8 255.4 1239.7 249 1237.1 242.1 1233.3 236.1 1229.3 230.9 1225.1 225.3 1219.8 220.5 1214.3 216.1 1208.3 212.5 1202.3 209.6 1196.3 206.9 1189.2 205.1 1182 204.2 1176 203.9 1170 204.4 1162.8 205.6 1155.6 207.3 1149.6 210.2 1142.5 213.2 1136.5 216.9 1130.5 221.7 1124.3 227 1118.5 232.5 1113.5 238.5 1109 244.5 1105.3 250.5 1102.2 257.8 1099.4 265 1097.5 272.2 1096.3 278.2 1096 285.4 1096.5 292.6 1097.7 298.6 1099.4 305.9 1102.2 311.9 1105.3 317.9 1109 324.1 1113.7 329.9 1119 334.9 1124.5 339.5 1130.5 343.2 1136.5 346.2 1142.5 349.1 1149.6 351 1156.8 352.2 1164 352.5 1170 352 1177.2 350.8 1184.4 348.7 1191.6 345.7 1198.7 342.5 1204.7 338.3 1211.1 333.5 1217.1 328.2 1222.7 322.7 1227.5 316.7 1231.8 309.8 1235.9 303.5 1238.8 296.2 1241.3 289 1243 281.8 1243.9 274.6 1243.9 268.6 1243.2"/>
</g>
<clipPath id="ch"><rect x="672.9" y="978.4" width="384.8" height="383.2"/></clipPath>
<g clip-path="url(#ch)" fill="none" stroke-width="1.5" stroke-linejoin="round" stroke-linecap="round">
<path stroke="#3cb58e" d="M715.9 1366.4 716 1353.2 717.4 1328.1 716.8 1323.3 716.2 1321.5 714.9 1319.7 713.2 1318.5 711.4 1317.8 706.6 1317.3 681.3 1318.7 668.1 1318.8M908.3 1366.4 908.4 1353.2 909.7 1326.9 908.9 1322.1 907.4 1319.7 906.2 1318.8 903.8 1317.8 899 1317.3 865.3 1318.9 832.8 1317.3 828 1317.6 824.9 1318.5 823.2 1319.7 822.3 1320.9 821.3 1323.3 820.8 1330.5 822.2 1353.2 822.2 1366.4M1062.5 1318.8 1048.1 1318.6 1024 1317.3 1019.2 1317.8 1017.3 1318.5 1015.6 1319.7 1014.4 1321.4 1013.7 1323.3 1013.2 1328.1 1014.6 1353.2 1014.6 1366.4M668.1 1212.9 681.3 1213 704.2 1214.3 711.4 1213.8 713.8 1212.8 715 1211.9 716.2 1210.2 717.1 1207.1 717.4 1202.3 715.8 1170 717.4 1136.5 716.8 1131.7 715.9 1129.3 714.9 1128.1 712.6 1126.6 707.8 1125.7 681.3 1127.1 668.1 1127.2M1062.5 1127.2 1049.3 1127.1 1022.8 1125.7 1018 1126.6 1015.6 1128.1 1014.7 1129.3 1013.7 1131.7 1013.2 1136.5 1014.7 1170 1013.1 1202.3 1013.4 1207.1 1014.4 1210.3 1015.6 1211.9 1016.8 1212.9 1019.2 1213.8 1026.4 1214.4 1048.1 1213 1062.5 1212.8M668.1 1021.3 681.3 1021.4 706.6 1022.8 711.4 1022.2 713.3 1021.5 715 1020.3 716.2 1018.6 716.9 1016.7 717.4 1011.9 716.1 988 715.9 973.6M822.3 973.6 822.1 988 820.8 1009.5 821.3 1016.7 822.2 1019.1 823.2 1020.4 824.8 1021.5 828 1022.5 832.8 1022.8 865.3 1021.2 899 1022.8 903.8 1022.2 906.2 1021.2 907.4 1020.3 908.9 1017.9 909.8 1013.1 908.4 986.8 908.3 973.6M1014.7 973.6 1014.5 988 1013.1 1011.9 1013.7 1016.7 1014.4 1018.7 1015.6 1020.3 1017.2 1021.5 1019.2 1022.2 1024 1022.8 1048.1 1021.4 1062.5 1021.2M830.4 1214.3 865.3 1212.8 899 1214.4 903.8 1213.8 905.7 1213.1 907.4 1211.9 908.6 1210.2 909.3 1208.3 909.8 1203.5 908.2 1170 908.5 1159.2 909.8 1137.7 909.2 1131.7 908.6 1129.9 907.3 1128.1 905.6 1126.9 903.8 1126.2 899 1125.7 865.3 1127.3 832.8 1125.7 826.8 1126.2 824.9 1126.9 823.2 1128.1 822 1129.8 821.3 1131.7 820.8 1136.5 822.3 1170 822 1182 820.8 1199.9 820.9 1205.9 821.7 1209.5 823.2 1212 825.6 1213.5 830.4 1214.3"/>
</g>
<clipPath id="ci"><rect x="1260.9" y="978.5" width="384.8" height="383.2"/></clipPath>
<g clip-path="url(#ci)" fill="none" stroke-width="1.5" stroke-linejoin="round" stroke-linecap="round">
<path stroke="#389799" d="M1316.8 1366.5 1316.9 1354.5 1317.8 1342.5 1320.2 1328.2 1325.2 1305.4 1325.5 1301.8 1324.6 1298.8 1323.4 1297.8 1322.2 1297.5 1318.6 1297.5 1295.8 1302.4 1283.7 1304.5 1269.3 1305.9 1256.1 1306M1509.2 1366.5 1509.3 1353.3 1510.7 1338.9 1512.8 1327 1517.8 1304.2 1517.9 1301.8 1517.4 1299.4 1515.8 1297.8 1513.4 1297.4 1508.6 1297.9 1488.2 1302.4 1474.9 1304.7 1464.1 1305.8 1453.3 1306.1 1441.3 1305.7 1429.2 1304.3 1417.2 1302.2 1399.2 1298.1 1393.2 1297.4 1390.8 1297.8 1389.6 1298.8 1388.8 1300.6 1388.7 1303 1389.7 1309 1394 1328.2 1395.9 1338.9 1397.3 1353.3 1397.4 1366.5M1650.5 1306.1 1636.1 1305.8 1622.9 1304.5 1610.8 1302.4 1588 1297.5 1584.4 1297.5 1583.2 1297.8 1582 1298.8 1581.1 1301.8 1581.4 1305.4 1586.7 1329.4 1588.9 1343.7 1589.8 1355.7 1589.8 1366.5M1256.1 1225.8 1269.3 1225.9 1283.7 1227.3 1294.6 1229.1 1313.8 1233.5 1319.8 1234.4 1322.2 1234.3 1324.1 1233.6 1325 1232.4 1325.5 1230 1324.8 1224 1320.7 1206 1318.5 1194 1317.2 1182.1 1316.7 1170.1 1317.1 1159.3 1318.1 1148.5 1320.4 1135.4 1325 1115 1325.5 1110.2 1325 1107.8 1323.4 1106.2 1321 1105.8 1318.6 1105.9 1295.8 1110.8 1283.7 1112.9 1269.3 1114.3 1256.1 1114.4M1650.5 1114.5 1636.1 1114.2 1622.9 1112.9 1610.8 1110.8 1588 1105.9 1585.6 1105.8 1583.2 1106.2 1581.6 1107.8 1581.1 1110.2 1581.6 1115 1586.2 1135.4 1588.4 1148.5 1589.5 1159.3 1589.9 1170.1 1589.4 1182.1 1588.1 1194 1585.9 1206 1581.8 1224 1581.1 1230 1581.5 1232.4 1582.5 1233.6 1584.4 1234.3 1586.8 1234.4 1592.8 1233.5 1612 1229.1 1622.9 1227.3 1636.1 1226 1650.5 1225.8M1256.1 1034.2 1266.9 1034.2 1278.9 1035.1 1293.4 1037.3 1317.4 1042.6 1321 1042.8 1324.1 1042 1325 1040.8 1325.4 1039.6 1325.4 1036 1320.4 1013.2 1318.3 1001.3 1317 988.1 1316.8 973.7M1397.4 973.7 1397.2 988.1 1395.9 1001.3 1394 1012 1389.7 1031.2 1388.7 1037.2 1388.8 1039.6 1389.6 1041.5 1390.8 1042.4 1393.2 1042.9 1399.2 1042.1 1417.2 1038 1429.2 1035.9 1441.3 1034.5 1453.3 1034.1 1464.1 1034.4 1474.9 1035.5 1488.2 1037.8 1508.6 1042.4 1513.4 1042.8 1515.8 1042.4 1517.4 1040.8 1517.9 1038.4 1517.8 1036 1512.8 1013.2 1510.7 1001.3 1509.4 988.1 1509.2 973.7M1589.8 973.7 1589.6 988.1 1588.3 1001.3 1586.2 1013.2 1581.2 1036 1581.2 1039.6 1581.5 1040.8 1582.5 1042 1585.6 1042.9 1589.2 1042.6 1612 1037.5 1626.5 1035.2 1638.5 1034.3 1650.5 1034.2M1390.8 1234 1393.2 1234.5 1398 1234 1418.4 1229.4 1431.7 1227.1 1442.5 1226.1 1453.3 1225.7 1465.3 1226.1 1478.1 1227.6 1488.2 1229.4 1511 1234.3 1514.6 1234.3 1515.8 1234 1517 1233 1517.8 1231.2 1517.8 1227.6 1512.8 1204.8 1511 1194.9 1509.6 1182.1 1509.1 1170.1 1509.5 1158.1 1511 1145.2 1512.8 1135.4 1517.8 1112.6 1517.8 1109 1517.4 1107.8 1516.5 1106.6 1514.6 1105.9 1511 1105.9 1478.6 1112.6 1466.5 1114 1454.5 1114.5 1441.3 1114.1 1429.2 1112.7 1418.4 1110.8 1395.6 1105.9 1392 1105.9 1390.8 1106.2 1389.6 1107.2 1388.8 1109 1388.8 1112.6 1395.5 1145 1396.9 1156.9 1397.5 1168.9 1397 1182.1 1395.7 1194 1393.8 1204.8 1388.8 1227.6 1388.7 1230 1389.1 1232.4 1390.8 1234"/>
</g>
<rect x="182.1" y="598.9" width="192.4" height="191.6" fill="none" stroke="#222" stroke-width="1.9"/>
<rect x="769.4" y="604" width="192.4" height="191.6" fill="none" stroke="#222" stroke-width="1.9"/>
<rect x="1357.2" y="605.7" width="192.4" height="191.6" fill="none" stroke="#222" stroke-width="1.9"/>
<path d="M182 1265.8H374.4V1074.2H182Z" fill="none" stroke="#333" stroke-width="1.8" stroke-dasharray="5.8 2.45"/>
<path d="M769.1 1265.8H961.5V1074.2H769.1Z" fill="none" stroke="#333" stroke-width="1.8" stroke-dasharray="5.8 2.45"/>
<path d="M1357.1 1265.9H1549.5V1074.3H1357.1Z" fill="none" stroke="#333" stroke-width="1.8" stroke-dasharray="5.8 2.45"/>
<rect x="85.9" y="503.1" width="384.8" height="383.2" fill="none" stroke="#000" stroke-width="1.6"/>
<line x1="182.1" y1="886.3" x2="182.1" y2="878.8" stroke="#000" stroke-width="1.5"/>
<line x1="85.9" y1="790.5" x2="93.4" y2="790.5" stroke="#000" stroke-width="1.5"/>
<line x1="278.3" y1="886.3" x2="278.3" y2="878.8" stroke="#000" stroke-width="1.5"/>
<line x1="85.9" y1="694.7" x2="93.4" y2="694.7" stroke="#000" stroke-width="1.5"/>
<line x1="374.5" y1="886.3" x2="374.5" y2="878.8" stroke="#000" stroke-width="1.5"/>
<line x1="85.9" y1="598.9" x2="93.4" y2="598.9" stroke="#000" stroke-width="1.5"/>
<text x="85.9" y="907.8" text-anchor="middle" font-family="'DejaVu Sans', sans-serif" font-size="21">-1</text>
<text x="80.3" y="893.9" text-anchor="end" font-family="'DejaVu Sans', sans-serif" font-size="21">-1</text>
<text x="182.1" y="907.8" text-anchor="middle" font-family="'DejaVu Sans', sans-serif" font-size="21">-0.5</text>
<text x="80.3" y="798.1" text-anchor="end" font-family="'DejaVu Sans', sans-serif" font-size="21">-0.5</text>
<text x="278.3" y="907.8" text-anchor="middle" font-family="'DejaVu Sans', sans-serif" font-size="21">0</text>
<text x="80.3" y="702.3" text-anchor="end" font-family="'DejaVu Sans', sans-serif" font-size="21">0</text>
<text x="374.5" y="907.8" text-anchor="middle" font-family="'DejaVu Sans', sans-serif" font-size="21">0.5</text>
<text x="80.3" y="606.5" text-anchor="end" font-family="'DejaVu Sans', sans-serif" font-size="21">0.5</text>
<text x="470.7" y="907.8" text-anchor="middle" font-family="'DejaVu Sans', sans-serif" font-size="21">1</text>
<text x="80.3" y="510.7" text-anchor="end" font-family="'DejaVu Sans', sans-serif" font-size="21">1</text>
<rect x="673.2" y="508.2" width="384.8" height="383.2" fill="none" stroke="#000" stroke-width="1.6"/>
<line x1="769.4" y1="891.4" x2="769.4" y2="883.9" stroke="#000" stroke-width="1.5"/>
<line x1="673.2" y1="795.6" x2="680.7" y2="795.6" stroke="#000" stroke-width="1.5"/>
<line x1="865.6" y1="891.4" x2="865.6" y2="883.9" stroke="#000" stroke-width="1.5"/>
<line x1="673.2" y1="699.8" x2="680.7" y2="699.8" stroke="#000" stroke-width="1.5"/>
<line x1="961.8" y1="891.4" x2="961.8" y2="883.9" stroke="#000" stroke-width="1.5"/>
<line x1="673.2" y1="604" x2="680.7" y2="604" stroke="#000" stroke-width="1.5"/>
<text x="673.2" y="912.9" text-anchor="middle" font-family="'DejaVu Sans', sans-serif" font-size="21">-1</text>
<text x="667.6" y="899" text-anchor="end" font-family="'DejaVu Sans', sans-serif" font-size="21">-1</text>
<text x="769.4" y="912.9" text-anchor="middle" font-family="'DejaVu Sans', sans-serif" font-size="21">-0.5</text>
<text x="667.6" y="803.2" text-anchor="end" font-family="'DejaVu Sans', sans-serif" font-size="21">-0.5</text>
<text x="865.6" y="912.9" text-anchor="middle" font-family="'DejaVu Sans', sans-serif" font-size="21">0</text>
<text x="667.6" y="707.4" text-anchor="end" font-family="'DejaVu Sans', sans-serif" font-size="21">0</text>
<text x="961.8" y="912.9" text-anchor="middle" font-family="'DejaVu Sans', sans-serif" font-size="21">0.5</text>
<text x="667.6" y="611.6" text-anchor="end" font-family="'DejaVu Sans', sans-serif" font-size="21">0.5</text>
<text x="1058" y="912.9" text-anchor="middle" font-family="'DejaVu Sans', sans-serif" font-size="21">1</text>
<text x="667.6" y="515.8" text-anchor="end" font-family="'DejaVu Sans', sans-serif" font-size="21">1</text>
<rect x="1261" y="509.9" width="384.8" height="383.2" fill="none" stroke="#000" stroke-width="1.6"/>
<line x1="1357.2" y1="893.1" x2="1357.2" y2="885.6" stroke="#000" stroke-width="1.5"/>
<line x1="1261" y1="797.3" x2="1268.5" y2="797.3" stroke="#000" stroke-width="1.5"/>
<line x1="1453.4" y1="893.1" x2="1453.4" y2="885.6" stroke="#000" stroke-width="1.5"/>
<line x1="1261" y1="701.5" x2="1268.5" y2="701.5" stroke="#000" stroke-width="1.5"/>
<line x1="1549.6" y1="893.1" x2="1549.6" y2="885.6" stroke="#000" stroke-width="1.5"/>
<line x1="1261" y1="605.7" x2="1268.5" y2="605.7" stroke="#000" stroke-width="1.5"/>
<text x="1261" y="914.6" text-anchor="middle" font-family="'DejaVu Sans', sans-serif" font-size="21">-1</text>
<text x="1255.4" y="900.7" text-anchor="end" font-family="'DejaVu Sans', sans-serif" font-size="21">-1</text>
<text x="1357.2" y="914.6" text-anchor="middle" font-family="'DejaVu Sans', sans-serif" font-size="21">-0.5</text>
<text x="1255.4" y="804.9" text-anchor="end" font-family="'DejaVu Sans', sans-serif" font-size="21">-0.5</text>
<text x="1453.4" y="914.6" text-anchor="middle" font-family="'DejaVu Sans', sans-serif" font-size="21">0</text>
<text x="1255.4" y="709.1" text-anchor="end" font-family="'DejaVu Sans', sans-serif" font-size="21">0</text>
<text x="1549.6" y="914.6" text-anchor="middle" font-family="'DejaVu Sans', sans-serif" font-size="21">0.5</text>
<text x="1255.4" y="613.3" text-anchor="end" font-family="'DejaVu Sans', sans-serif" font-size="21">0.5</text>
<text x="1645.8" y="914.6" text-anchor="middle" font-family="'DejaVu Sans', sans-serif" font-size="21">1</text>
<text x="1255.4" y="517.5" text-anchor="end" font-family="'DejaVu Sans', sans-serif" font-size="21">1</text>
<rect x="85.8" y="978.4" width="384.8" height="383.2" fill="none" stroke="#000" stroke-width="1.6"/>
<line x1="182" y1="1361.6" x2="182" y2="1354.1" stroke="#000" stroke-width="1.5"/>
<line x1="85.8" y1="1265.8" x2="93.3" y2="1265.8" stroke="#000" stroke-width="1.5"/>
<line x1="278.2" y1="1361.6" x2="278.2" y2="1354.1" stroke="#000" stroke-width="1.5"/>
<line x1="85.8" y1="1170" x2="93.3" y2="1170" stroke="#000" stroke-width="1.5"/>
<line x1="374.4" y1="1361.6" x2="374.4" y2="1354.1" stroke="#000" stroke-width="1.5"/>
<line x1="85.8" y1="1074.2" x2="93.3" y2="1074.2" stroke="#000" stroke-width="1.5"/>
<text x="85.8" y="1383.1" text-anchor="middle" font-family="'DejaVu Sans', sans-serif" font-size="21">-1</text>
<text x="80.2" y="1369.2" text-anchor="end" font-family="'DejaVu Sans', sans-serif" font-size="21">-1</text>
<text x="182" y="1383.1" text-anchor="middle" font-family="'DejaVu Sans', sans-serif" font-size="21">-0.5</text>
<text x="80.2" y="1273.4" text-anchor="end" font-family="'DejaVu Sans', sans-serif" font-size="21">-0.5</text>
<text x="278.2" y="1383.1" text-anchor="middle" font-family="'DejaVu Sans', sans-serif" font-size="21">0</text>
<text x="80.2" y="1177.6" text-anchor="end" font-family="'DejaVu Sans', sans-serif" font-size="21">0</text>
<text x="374.4" y="1383.1" text-anchor="middle" font-family="'DejaVu Sans', sans-serif" font-size="21">0.5</text>
<text x="80.2" y="1081.8" text-anchor="end" font-family="'DejaVu Sans', sans-serif" font-size="21">0.5</text>
<text x="470.6" y="1383.1" text-anchor="middle" font-family="'DejaVu Sans', sans-serif" font-size="21">1</text>
<text x="80.2" y="986" text-anchor="end" font-family="'DejaVu Sans', sans-serif" font-size="21">1</text>
<rect x="672.9" y="978.4" width="384.8" height="383.2" fill="none" stroke="#000" stroke-width="1.6"/>
<line x1="769.1" y1="1361.6" x2="769.1" y2="1354.1" stroke="#000" stroke-width="1.5"/>
<line x1="672.9" y1="1265.8" x2="680.4" y2="1265.8" stroke="#000" stroke-width="1.5"/>
<line x1="865.3" y1="1361.6" x2="865.3" y2="1354.1" stroke="#000" stroke-width="1.5"/>
<line x1="672.9" y1="1170" x2="680.4" y2="1170" stroke="#000" stroke-width="1.5"/>
<line x1="961.5" y1="1361.6" x2="961.5" y2="1354.1" stroke="#000" stroke-width="1.5"/>
<line x1="672.9" y1="1074.2" x2="680.4" y2="1074.2" stroke="#000" stroke-width="1.5"/>
<text x="672.9" y="1383.1" text-anchor="middle" font-family="'DejaVu Sans', sans-serif" font-size="21">-1</text>
<text x="667.3" y="1369.2" text-anchor="end" font-family="'DejaVu Sans', sans-serif" font-size="21">-1</text>
<text x="769.1" y="1383.1" text-anchor="middle" font-family="'DejaVu Sans', sans-serif" font-size="21">-0.5</text>
<text x="667.3" y="1273.4" text-anchor="end" font-family="'DejaVu Sans', sans-serif" font-size="21">-0.5</text>
<text x="865.3" y="1383.1" text-anchor="middle" font-family="'DejaVu Sans', sans-serif" font-size="21">0</text>
<text x="667.3" y="1177.6" text-anchor="end" font-family="'DejaVu Sans', sans-serif" font-size="21">0</text>
<text x="961.5" y="1383.1" text-anchor="middle" font-family="'DejaVu Sans', sans-serif" font-size="21">0.5</text>
<text x="667.3" y="1081.8" text-anchor="end" font-family="'DejaVu Sans', sans-serif" font-size="21">0.5</text>
<text x="1057.7" y="1383.1" text-anchor="middle" font-family="'DejaVu Sans', sans-serif" font-size="21">1</text>
<text x="667.3" y="986" text-anchor="end" font-family="'DejaVu Sans', sans-serif" font-size="21">1</text>
<rect x="1260.9" y="978.5" width="384.8" height="383.2" fill="none" stroke="#000" stroke-width="1.6"/>
<line x1="1357.1" y1="1361.7" x2="1357.1" y2="1354.2" stroke="#000" stroke-width="1.5"/>
<line x1="1260.9" y1="1265.9" x2="1268.4" y2="1265.9" stroke="#000" stroke-width="1.5"/>
<line x1="1453.3" y1="1361.7" x2="1453.3" y2="1354.2" stroke="#000" stroke-width="1.5"/>
<line x1="1260.9" y1="1170.1" x2="1268.4" y2="1170.1" stroke="#000" stroke-width="1.5"/>
<line x1="1549.5" y1="1361.7" x2="1549.5" y2="1354.2" stroke="#000" stroke-width="1.5"/>
<line x1="1260.9" y1="1074.3" x2="1268.4" y2="1074.3" stroke="#000" stroke-width="1.5"/>
<text x="1260.9" y="1383.2" text-anchor="middle" font-family="'DejaVu Sans', sans-serif" font-size="21">-1</text>
<text x="1255.3" y="1369.3" text-anchor="end" font-family="'DejaVu Sans', sans-serif" font-size="21">-1</text>
<text x="1357.1" y="1383.2" text-anchor="middle" font-family="'DejaVu Sans', sans-serif" font-size="21">-0.5</text>
<text x="1255.3" y="1273.5" text-anchor="end" font-family="'DejaVu Sans', sans-serif" font-size="21">-0.5</text>
<text x="1453.3" y="1383.2" text-anchor="middle" font-family="'DejaVu Sans', sans-serif" font-size="21">0</text>
<text x="1255.3" y="1177.7" text-anchor="end" font-family="'DejaVu Sans', sans-serif" font-size="21">0</text>
<text x="1549.5" y="1383.2" text-anchor="middle" font-family="'DejaVu Sans', sans-serif" font-size="21">0.5</text>
<text x="1255.3" y="1081.9" text-anchor="end" font-family="'DejaVu Sans', sans-serif" font-size="21">0.5</text>
<text x="1645.7" y="1383.2" text-anchor="middle" font-family="'DejaVu Sans', sans-serif" font-size="21">1</text>
<text x="1255.3" y="986.1" text-anchor="end" font-family="'DejaVu Sans', sans-serif" font-size="21">1</text>
<linearGradient id="g1" x1="0" y1="1" x2="0" y2="0">
<stop offset="0.00" stop-color="#662f73"/>
<stop offset="0.10" stop-color="#694b8e"/>
<stop offset="0.20" stop-color="#63659d"/>
<stop offset="0.30" stop-color="#597ca2"/>
<stop offset="0.40" stop-color="#5090a3"/>
<stop offset="0.50" stop-color="#49a4a1"/>
<stop offset="0.60" stop-color="#4ab89a"/>
<stop offset="0.70" stop-color="#66ca8a"/>
<stop offset="0.80" stop-color="#92da70"/>
<stop offset="0.90" stop-color="#c9e54d"/>
<stop offset="1.00" stop-color="#feeb4c"/>
</linearGradient>
<rect x="503.6" y="742.4" width="19.6" height="384" fill="url(#g1)" stroke="#000" stroke-width="1.4"/>
<line x1="518.5" y1="1126.4" x2="523.2" y2="1126.4" stroke="#000" stroke-width="1.2"/>
<text x="528.7" y="1132.2" font-family="'DejaVu Sans', sans-serif" font-size="16">0.00</text>
<line x1="518.5" y1="1060.6" x2="523.2" y2="1060.6" stroke="#000" stroke-width="1.2"/>
<text x="528.7" y="1066.4" font-family="'DejaVu Sans', sans-serif" font-size="16">0.05</text>
<line x1="518.5" y1="994.9" x2="523.2" y2="994.9" stroke="#000" stroke-width="1.2"/>
<text x="528.7" y="1000.7" font-family="'DejaVu Sans', sans-serif" font-size="16">0.10</text>
<line x1="518.5" y1="929.1" x2="523.2" y2="929.1" stroke="#000" stroke-width="1.2"/>
<text x="528.7" y="934.9" font-family="'DejaVu Sans', sans-serif" font-size="16">0.15</text>
<line x1="518.5" y1="863.4" x2="523.2" y2="863.4" stroke="#000" stroke-width="1.2"/>
<text x="528.7" y="869.2" font-family="'DejaVu Sans', sans-serif" font-size="16">0.20</text>
<line x1="518.5" y1="797.6" x2="523.2" y2="797.6" stroke="#000" stroke-width="1.2"/>
<text x="528.7" y="803.4" font-family="'DejaVu Sans', sans-serif" font-size="16">0.25</text>
<linearGradient id="g2" x1="0" y1="1" x2="0" y2="0">
<stop offset="0.00" stop-color="#662f73"/>
<stop offset="0.10" stop-color="#694b8e"/>
<stop offset="0.20" stop-color="#63659d"/>
<stop offset="0.30" stop-color="#597ca2"/>
<stop offset="0.40" stop-color="#5090a3"/>
<stop offset="0.50" stop-color="#49a4a1"/>
<stop offset="0.60" stop-color="#4ab89a"/>
<stop offset="0.70" stop-color="#66ca8a"/>
<stop offset="0.80" stop-color="#92da70"/>
<stop offset="0.90" stop-color="#c9e54d"/>
<stop offset="1.00" stop-color="#feeb4c"/>
</linearGradient>
<rect x="1092.6" y="746.9" width="19.2" height="383.1" fill="url(#g2)" stroke="#000" stroke-width="1.4"/>
<line x1="1107.1" y1="1092.5" x2="1111.8" y2="1092.5" stroke="#000" stroke-width="1.2"/>
<text x="1117.3" y="1098.3" font-family="'DejaVu Sans', sans-serif" font-size="16">0.36</text>
<line x1="1107.1" y1="1037.1" x2="1111.8" y2="1037.1" stroke="#000" stroke-width="1.2"/>
<text x="1117.3" y="1042.9" font-family="'DejaVu Sans', sans-serif" font-size="16">0.38</text>
<line x1="1107.1" y1="981.6" x2="1111.8" y2="981.6" stroke="#000" stroke-width="1.2"/>
<text x="1117.3" y="987.4" font-family="'DejaVu Sans', sans-serif" font-size="16">0.40</text>
<line x1="1107.1" y1="926.1" x2="1111.8" y2="926.1" stroke="#000" stroke-width="1.2"/>
<text x="1117.3" y="931.9" font-family="'DejaVu Sans', sans-serif" font-size="16">0.42</text>
<line x1="1107.1" y1="870.6" x2="1111.8" y2="870.6" stroke="#000" stroke-width="1.2"/>
<text x="1117.3" y="876.4" font-family="'DejaVu Sans', sans-serif" font-size="16">0.44</text>
<line x1="1107.1" y1="815.1" x2="1111.8" y2="815.1" stroke="#000" stroke-width="1.2"/>
<text x="1117.3" y="820.9" font-family="'DejaVu Sans', sans-serif" font-size="16">0.46</text>
<line x1="1107.1" y1="759.7" x2="1111.8" y2="759.7" stroke="#000" stroke-width="1.2"/>
<text x="1117.3" y="765.5" font-family="'DejaVu Sans', sans-serif" font-size="16">0.48</text>
<linearGradient id="g3" x1="0" y1="1" x2="0" y2="0">
<stop offset="0.00" stop-color="#662f73"/>
<stop offset="0.10" stop-color="#694b8e"/>
<stop offset="0.20" stop-color="#63659d"/>
<stop offset="0.30" stop-color="#597ca2"/>
<stop offset="0.40" stop-color="#5090a3"/>
<stop offset="0.50" stop-color="#49a4a1"/>
<stop offset="0.60" stop-color="#4ab89a"/>
<stop offset="0.70" stop-color="#66ca8a"/>
<stop offset="0.80" stop-color="#92da70"/>
<stop offset="0.90" stop-color="#c9e54d"/>
<stop offset="1.00" stop-color="#feeb4c"/>
</linearGradient>
<rect x="1680.4" y="743.3" width="19.4" height="382.3" fill="url(#g3)" stroke="#000" stroke-width="1.4"/>
<line x1="1695.1" y1="1125.6" x2="1699.8" y2="1125.6" stroke="#000" stroke-width="1.2"/>
<text x="1705.3" y="1131.4" font-family="'DejaVu Sans', sans-serif" font-size="16">0.30</text>
<line x1="1695.1" y1="1063.9" x2="1699.8" y2="1063.9" stroke="#000" stroke-width="1.2"/>
<text x="1705.3" y="1069.7" font-family="'DejaVu Sans', sans-serif" font-size="16">0.33</text>
<line x1="1695.1" y1="1002.2" x2="1699.8" y2="1002.2" stroke="#000" stroke-width="1.2"/>
<text x="1705.3" y="1008" font-family="'DejaVu Sans', sans-serif" font-size="16">0.36</text>
<line x1="1695.1" y1="940.5" x2="1699.8" y2="940.5" stroke="#000" stroke-width="1.2"/>
<text x="1705.3" y="946.3" font-family="'DejaVu Sans', sans-serif" font-size="16">0.39</text>
<line x1="1695.1" y1="878.8" x2="1699.8" y2="878.8" stroke="#000" stroke-width="1.2"/>
<text x="1705.3" y="884.6" font-family="'DejaVu Sans', sans-serif" font-size="16">0.42</text>
<line x1="1695.1" y1="817.1" x2="1699.8" y2="817.1" stroke="#000" stroke-width="1.2"/>
<text x="1705.3" y="822.9" font-family="'DejaVu Sans', sans-serif" font-size="16">0.45</text>
<line x1="1695.1" y1="755.4" x2="1699.8" y2="755.4" stroke="#000" stroke-width="1.2"/>
<text x="1705.3" y="761.2" font-family="'DejaVu Sans', sans-serif" font-size="16">0.48</text>
<text x="0.2" y="490.5" font-family="'Liberation Sans', Arial, sans-serif" font-weight="bold" font-size="37">(d)</text>
<text x="605" y="490.5" font-family="'Liberation Sans', Arial, sans-serif" font-weight="bold" font-size="37">(e)</text>
<text x="1193.5" y="490.5" font-family="'Liberation Sans', Arial, sans-serif" font-weight="bold" font-size="37">(f)</text>
<text x="0.2" y="979" font-family="'Liberation Sans', Arial, sans-serif" font-weight="bold" font-size="37">(g)</text>
<text x="606" y="979" font-family="'Liberation Sans', Arial, sans-serif" font-weight="bold" font-size="37">(h)</text>
<text x="1196" y="979" font-family="'Liberation Sans', Arial, sans-serif" font-weight="bold" font-size="37">(i)</text>
<text x="148.6" y="609.1" fill="#ee7422" font-family="'Liberation Sans', Arial, sans-serif" font-size="32.8" text-anchor="start">M</text>
<text x="148.6" y="795.5" fill="#ee7422" font-family="'Liberation Sans', Arial, sans-serif" font-size="32.8" text-anchor="start">M</text>
<text x="379.1" y="609.1" fill="#ee7422" font-family="'Liberation Sans', Arial, sans-serif" font-size="32.8" text-anchor="start">M</text>
<text x="379.1" y="795.5" fill="#ee7422" font-family="'Liberation Sans', Arial, sans-serif" font-size="32.8" text-anchor="start">M</text>
<text x="151.1" y="699" fill="#ee7422" font-family="'Liberation Sans', Arial, sans-serif" font-size="32.8" text-anchor="start">X</text>
<text x="381.6" y="699" fill="#ee7422" font-family="'Liberation Sans', Arial, sans-serif" font-size="32.8" text-anchor="start">X</text>
<text x="271.2" y="699" font-family="'DejaVu Sans', sans-serif" font-size="30" stroke="#000" stroke-width="0.6">Γ</text>
<text x="736" y="613.2" fill="#ee7422" font-family="'Liberation Sans', Arial, sans-serif" font-size="32.8" text-anchor="start">M</text>
<text x="736" y="800.5" fill="#ee7422" font-family="'Liberation Sans', Arial, sans-serif" font-size="32.8" text-anchor="start">M</text>
<text x="966.5" y="613.2" fill="#ee7422" font-family="'Liberation Sans', Arial, sans-serif" font-size="32.8" text-anchor="start">M</text>
<text x="966.5" y="800.5" fill="#ee7422" font-family="'Liberation Sans', Arial, sans-serif" font-size="32.8" text-anchor="start">M</text>
<text x="738.5" y="703" fill="#ee7422" font-family="'Liberation Sans', Arial, sans-serif" font-size="32.8" text-anchor="start">X</text>
<text x="969" y="703" fill="#ee7422" font-family="'Liberation Sans', Arial, sans-serif" font-size="32.8" text-anchor="start">X</text>
<text x="859" y="703" font-family="'DejaVu Sans', sans-serif" font-size="30" stroke="#000" stroke-width="0.6">Γ</text>
<text x="1323.6" y="615.8" fill="#ee7422" font-family="'Liberation Sans', Arial, sans-serif" font-size="32.8" text-anchor="start">M</text>
<text x="1323.6" y="803.2" fill="#ee7422" font-family="'Liberation Sans', Arial, sans-serif" font-size="32.8" text-anchor="start">M</text>
<text x="1554" y="615.8" fill="#ee7422" font-family="'Liberation Sans', Arial, sans-serif" font-size="32.8" text-anchor="start">M</text>
<text x="1554" y="803.2" fill="#ee7422" font-family="'Liberation Sans', Arial, sans-serif" font-size="32.8" text-anchor="start">M</text>
<text x="1326.1" y="706" fill="#ee7422" font-family="'Liberation Sans', Arial, sans-serif" font-size="32.8" text-anchor="start">X</text>
<text x="1556.5" y="706" fill="#ee7422" font-family="'Liberation Sans', Arial, sans-serif" font-size="32.8" text-anchor="start">X</text>
<text x="1447.3" y="706" font-family="'DejaVu Sans', sans-serif" font-size="30" stroke="#000" stroke-width="0.6">Γ</text>
<circle cx="278.2" cy="1170" r="42" fill="none" stroke="#000" stroke-width="2"/>
<circle cx="278.2" cy="1170" r="2.6" fill="#000"/>
<line x1="85.8" y1="1312.9" x2="422.3" y2="978.4" stroke="#000" stroke-width="1.8" stroke-dasharray="17 7.6"/>
<line x1="274.9" y1="1128.5" x2="280.7" y2="1042.7" stroke="#000" stroke-width="2.2"/>
<polygon points="281.4,1032.5 286.5,1045.4 280.6,1043.7 274.6,1044.6" fill="#000"/>
<path d="M277.9 1084.6A44 44 0 0 1 306 1097.4" fill="none" stroke="#000" stroke-width="1.6"/>
<line x1="303" y1="1101.1" x2="344.7" y2="1005.5" stroke="#ee7d2e" stroke-width="2.0"/>
<polygon points="349,995.7 349.3,1010 344.3,1006.4 338.3,1005.2" fill="#ee7d2e"/>
<path d="M332.6 1033.3A74 74 0 0 1 355.3 1048.8" fill="none" stroke="#ee7d2e" stroke-width="1.5"/>
<circle cx="303" cy="1101.1" r="4.7" fill="#ee7d2e"/>
<circle cx="204.1" cy="1194.1" r="4.7" fill="#ee7d2e"/>
<circle cx="107.7" cy="1293.5" r="4.7" fill="#3b6fd6"/>
<circle cx="398.2" cy="1004.6" r="4.7" fill="#3b6fd6"/>
<text x="316.5" y="1105.8" fill="#ee7422" font-family="'Liberation Sans', Arial, sans-serif" font-size="30.5" text-anchor="start">A</text>
<text x="216.5" y="1213" fill="#ee7422" font-family="'Liberation Sans', Arial, sans-serif" font-size="30.5" text-anchor="start">B</text>
<text x="129" y="1297.6" fill="#3b6fd6" font-family="'Liberation Sans', Arial, sans-serif" font-size="30.5" text-anchor="start">A</text>
<text x="414.5" y="1016" fill="#3b6fd6" font-family="'Liberation Sans', Arial, sans-serif" font-size="30.5" text-anchor="start">B</text>
<text x="290" y="1074.2" fill="#000" font-family="'Liberation Sans', Arial, sans-serif" font-size="30.5" text-anchor="start">θ</text>
<text x="354" y="1021.5" fill="#ee7422" font-family="'Liberation Sans', Arial, sans-serif" font-size="30.5" text-anchor="start">β</text>
<text x="302.3" y="1222.9" fill="#000" font-family="'Liberation Sans', Arial, sans-serif" font-size="30.5" text-anchor="start">ω</text>
<circle cx="865.3" cy="1170" r="82.7" fill="none" stroke="#000" stroke-width="1.6"/>
<circle cx="865.3" cy="1170" r="2.6" fill="#000"/>
<line x1="672.9" y1="1303.2" x2="1000.4" y2="978.4" stroke="#000" stroke-width="1.8" stroke-dasharray="17 7.6"/>
<line x1="889.6" y1="1089.6" x2="915.6" y2="996.1" stroke="#000" stroke-width="2.2"/>
<polygon points="918.4,986.2 920.8,999.9 915.4,997 909.3,996.6" fill="#000"/>
<path d="M906.6 1028.4A63.5 63.5 0 0 1 934.5 1044.7" fill="none" stroke="#000" stroke-width="1.6"/>
<line x1="822.2" y1="1156" x2="914.9" y2="1137.4" stroke="#ee7d2e" stroke-width="2.0"/>
<polygon points="924.5,1135.5 913.9,1143.7 913.9,1137.6 911.6,1132" fill="#ee7d2e"/>
<path d="M866.7 1111.5A63 63 0 0 1 884 1143.6" fill="none" stroke="#ee7d2e" stroke-width="1.5"/>
<circle cx="853.3" cy="1127.3" r="4.7" fill="#ee7d2e"/>
<circle cx="822.2" cy="1156" r="4.7" fill="#ee7d2e"/>
<text x="826" y="1119" fill="#ee7422" font-family="'Liberation Sans', Arial, sans-serif" font-size="30.5" text-anchor="start">A</text>
<text x="790.3" y="1158.8" fill="#ee7422" font-family="'Liberation Sans', Arial, sans-serif" font-size="30.5" text-anchor="start">B</text>
<text x="891" y="1126" fill="#ee7422" font-family="'Liberation Sans', Arial, sans-serif" font-size="30.5" text-anchor="start">β</text>
<text x="922.5" y="1028.6" fill="#000" font-family="'Liberation Sans', Arial, sans-serif" font-size="30.5" text-anchor="start">θ</text>
<text x="922.5" y="1248.6" fill="#000" font-family="'Liberation Sans', Arial, sans-serif" font-size="30.5" text-anchor="start">ω</text>
<circle cx="1453.6" cy="1169.8" r="75" fill="none" stroke="#000" stroke-width="1.7"/>
<circle cx="1453.6" cy="1169.8" r="2.6" fill="#000"/>
<line x1="1260.9" y1="1265.3" x2="1550.3" y2="978.5" stroke="#000" stroke-width="1.8" stroke-dasharray="17 7.6"/>
<line x1="1429.3" y1="1099.2" x2="1402.7" y2="1016.7" stroke="#000" stroke-width="2.2"/>
<polygon points="1399.6,1006.9 1409.1,1017 1403,1017.6 1397.7,1020.6" fill="#000"/>
<path d="M1414.8 1054A47.5 47.5 0 0 1 1462.9 1065.6" fill="none" stroke="#000" stroke-width="1.6"/>
<line x1="1394.5" y1="1136.4" x2="1530.7" y2="1106" stroke="#ee7d2e" stroke-width="1.5"/>
<polygon points="1538.5,1104.3 1529.8,1111.4 1529.7,1106.3 1527.7,1101.6" fill="#ee7d2e"/>
<path d="M1461.5 1067A96.5 96.5 0 0 1 1488.7 1115.4" fill="none" stroke="#ee7d2e" stroke-width="1.5"/>
<line x1="1298.7" y1="1231.4" x2="1327.4" y2="1082.9" stroke="#3b6fd6" stroke-width="1.5"/>
<polygon points="1328.8,1075.5 1331.9,1085.8 1327.2,1083.9 1322.1,1083.9" fill="#3b6fd6"/>
<path d="M1314.4 1149.9A83 83 0 0 1 1353.2 1168.8" fill="none" stroke="#3b6fd6" stroke-width="1.5"/>
<circle cx="1420.5" cy="1111.2" r="4.7" fill="#ee7d2e"/>
<circle cx="1394.5" cy="1136.4" r="4.7" fill="#ee7d2e"/>
<circle cx="1518" cy="1213.6" r="4.7" fill="#ee7d2e"/>
<circle cx="1496.3" cy="1233" r="4.7" fill="#ee7d2e"/>
<circle cx="1514.4" cy="1012.5" r="4.7" fill="#3b6fd6"/>
<circle cx="1487.9" cy="1037.4" r="4.7" fill="#3b6fd6"/>
<circle cx="1323" cy="1204.5" r="4.7" fill="#3b6fd6"/>
<circle cx="1298.7" cy="1231.4" r="4.7" fill="#3b6fd6"/>
<text x="1395" y="1100" fill="#ee7422" font-family="'Liberation Sans', Arial, sans-serif" font-size="30.5" text-anchor="start">A</text>
<text x="1363" y="1137" fill="#ee7422" font-family="'Liberation Sans', Arial, sans-serif" font-size="30.5" text-anchor="start">B</text>
<text x="1524" y="1223.3" fill="#ee7422" font-family="'Liberation Sans', Arial, sans-serif" font-size="30.5" text-anchor="start">C</text>
<text x="1497" y="1265.3" fill="#ee7422" font-family="'Liberation Sans', Arial, sans-serif" font-size="30.5" text-anchor="start">D</text>
<text x="1330.5" y="1228.8" fill="#3b6fd6" font-family="'Liberation Sans', Arial, sans-serif" font-size="30.5" text-anchor="start">C</text>
<text x="1294.8" y="1267.6" fill="#3b6fd6" font-family="'Liberation Sans', Arial, sans-serif" font-size="30.5" text-anchor="start">D</text>
<text x="1493" y="1096.5" fill="#ee7422" font-family="'Liberation Sans', Arial, sans-serif" font-size="30.5" text-anchor="start">β</text>
<text x="1330" y="1139.5" fill="#3b6fd6" font-family="'Liberation Sans', Arial, sans-serif" font-size="30.5" text-anchor="start">β</text>
<text x="1437" y="1044.6" fill="#000" font-family="'Liberation Sans', Arial, sans-serif" font-size="30.5" text-anchor="start">θ</text>
<text x="1408.5" y="1260.5" fill="#000" font-family="'Liberation Sans', Arial, sans-serif" font-size="30.5" text-anchor="start">ω</text>
</svg></body></html>
